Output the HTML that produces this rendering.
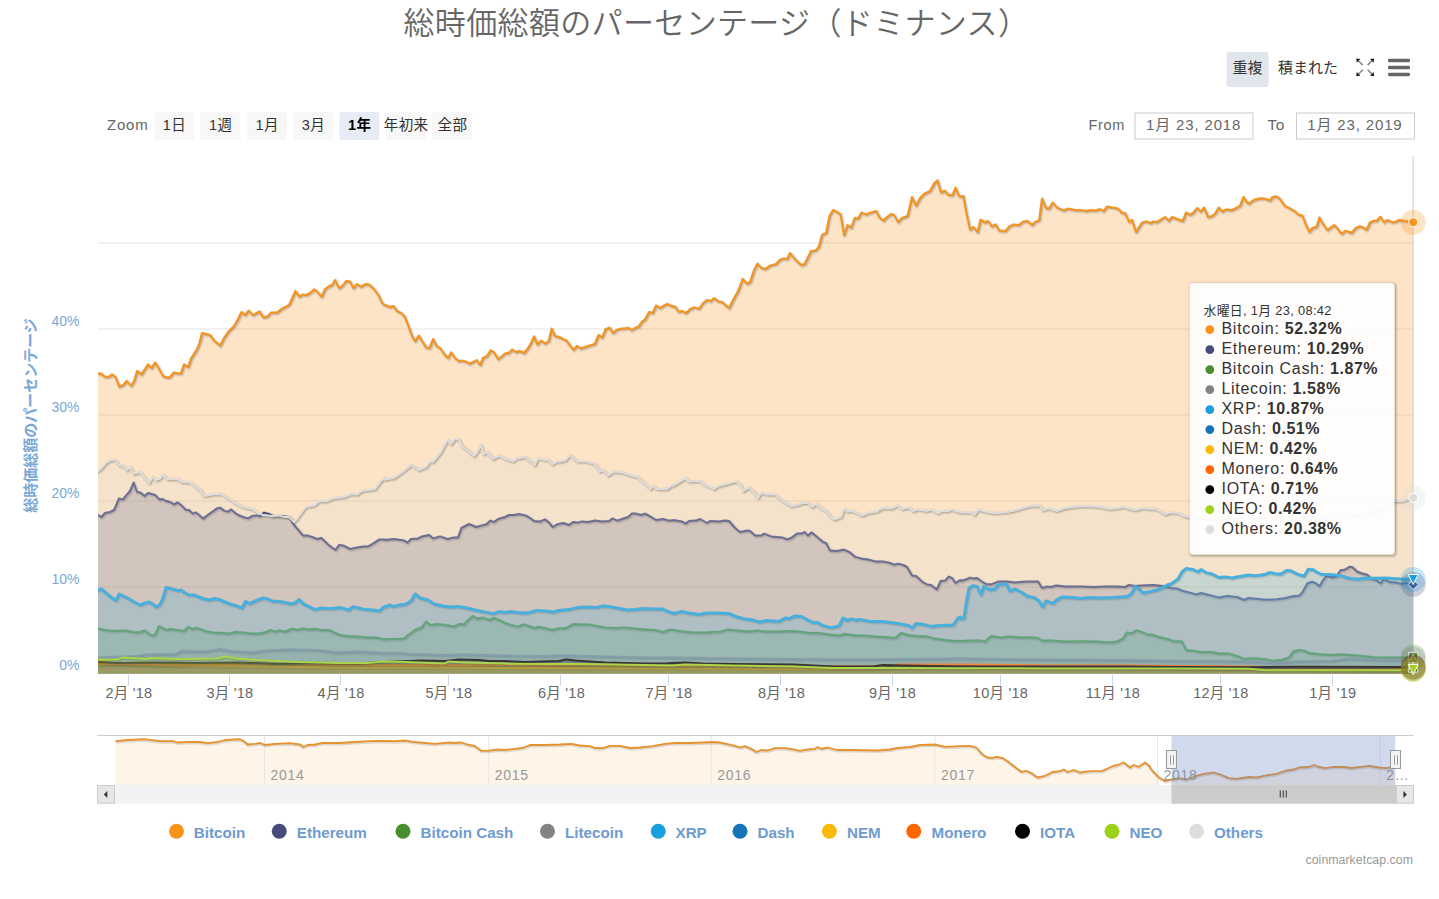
<!DOCTYPE html>
<html lang="ja"><head><meta charset="utf-8"><title>総時価総額のパーセンテージ（ドミナンス）</title>
<style>
html,body{margin:0;padding:0;background:#fff;width:1439px;height:899px;overflow:hidden;font-family:"Liberation Sans", "Noto Sans CJK JP", sans-serif;}
svg text{white-space:pre;}
</style></head><body>
<svg width="1439" height="899" viewBox="0 0 1439 899" style="position:absolute;left:0;top:0;font-family:'Liberation Sans', 'Noto Sans CJK JP', sans-serif">
<rect width="1439" height="899" fill="#fff"/>
<rect x="98.0" y="242.5" width="1315.7" height="1" fill="#e6e6e6"/>
<rect x="98.0" y="328.5" width="1315.7" height="1" fill="#e6e6e6"/>
<rect x="98.0" y="414.5" width="1315.7" height="1" fill="#e6e6e6"/>
<rect x="98.0" y="500.5" width="1315.7" height="1" fill="#e6e6e6"/>
<rect x="98.0" y="586.5" width="1315.7" height="1" fill="#e6e6e6"/>
<clipPath id="plotclip"><rect x="98.0" y="146.0" width="1315.7" height="528.1"/></clipPath>
<g id="series" clip-path="url(#plotclip)">
<path d="M98 373.4 L101 373.4 L105 377 L109 376.6 L112 374.4 L115.4 377 L119.4 386.6 L123 385 L126.6 381 L131 385.6 L134 381 L137 371 L141.4 374.4 L148 364.4 L151.4 368 L155 362.6 L158 367 L163 376 L167 377.6 L170 377 L173.6 372.6 L179 373.4 L181 373 L184 364.4 L188 367 L191 358.6 L197 349 L199.4 343 L202 333 L206 334 L210 335 L214 340.4 L220 345.6 L224 338 L228 332 L234 326 L238 319 L241.4 312 L245 315 L248.6 310.6 L253 315 L259.4 311.4 L263.4 317.4 L267 316.6 L271 312.6 L277 312.6 L282 308.6 L289 305 L295.4 291 L299.4 296.6 L302.6 294.6 L306 295 L310 293 L314 289.4 L317 291.4 L321.4 296.6 L325 289 L329 286 L332 285 L335 280 L339 288 L342 286 L346 281 L350 281.4 L353.4 288 L356.6 284 L361 286.6 L365 284 L369 284.4 L374 289 L379 296 L382 303 L384.6 305 L385 305 L390 307 L393.4 306 L397 311 L401 313 L404.6 316.4 L408 325 L412 336 L415 341 L418.6 335.6 L422 341 L426 347.4 L429.4 348 L433 339 L436.6 346 L440 348 L445 355 L448 358 L451 352.4 L455 358 L458.6 361 L462 360.6 L466 361.6 L469.4 363.6 L473 362 L476.6 360 L480 365 L483 358 L487 356 L490.6 350.4 L494 352.4 L498 359 L502 356 L505 353.4 L508.6 353 L512 349.6 L516 352 L519.4 351 L524 353 L527.4 349 L531 343 L534 336.4 L537.4 344.4 L541 340.6 L545 343.6 L548.6 341 L551.6 328.6 L555 336 L559 337 L563 339 L566.6 340.6 L570 345.6 L573.4 349.6 L577 346 L580.6 348.4 L585 347 L589 345.6 L594.6 344 L598.6 335 L602 337.6 L605.6 329 L609.4 327.6 L613 333 L617 329.6 L621 328.6 L625 328.4 L628 327.6 L631.4 330 L635 328 L638.6 326.4 L642 321.6 L645 319.4 L649 312 L652.6 313 L656 305.4 L660 308 L664 305.4 L667.4 304 L672.6 306.4 L673 306 L675.4 307 L678.6 311.6 L682 311 L686 313 L690 309 L694 307.4 L699 308.6 L703 303 L707 300 L710.6 301 L714 298 L718.6 301.6 L722 302 L729 308 L733 300 L738 291 L742.6 279 L747 283.6 L750 282 L754 270 L757.4 263.6 L761 267.6 L765 269 L770 265.6 L776 264 L780 259.6 L784 258.4 L787 259 L790 253 L794 258 L798 262.4 L801.4 265 L804.6 264 L811 251 L815.4 250.6 L818.6 247 L822 235 L826 233 L829.4 216 L833 210 L837 212 L840.6 214.4 L844 235 L847.4 225 L851 227.6 L854.6 218 L858 218.6 L861.4 212.6 L866 214.4 L871 212.4 L876 211 L880 218 L883.4 220.4 L887 217 L891 214 L894 215 L898 222 L902 218 L907.4 216 L912 197 L916 205.6 L920 198 L924 194 L930 191 L934 183.6 L937.4 180.4 L941 192.4 L944.6 190.6 L948.6 195 L952.6 195 L955.4 187.6 L959 196 L960.6 197 L961 196.4 L963.4 196 L966.6 214 L970 229.4 L973.4 227 L977.4 232 L980.6 219.6 L984.6 222.4 L988 221 L992 226.4 L995.4 224.4 L999.4 230.6 L1005.4 231 L1009 226.6 L1013.4 224.4 L1019 225 L1023 221.4 L1027.4 221 L1032 225 L1035.4 221.6 L1039 220.4 L1042 198.6 L1046 208 L1049 208.4 L1052.6 202.6 L1057 207.6 L1063.4 210.4 L1068 208.6 L1075 210 L1081 210 L1086 211 L1091 210 L1095 210.6 L1100 209 L1103.4 211 L1107 206.6 L1112 207.4 L1118 208.6 L1122 213 L1125 213 L1129 221.6 L1132 220 L1136 232 L1142 222.4 L1146 221.4 L1150.6 223 L1153.4 221.4 L1157 222 L1161.4 219 L1165 217 L1168.6 220.6 L1172 217 L1177 219 L1182.6 221 L1186 212.6 L1190 214.6 L1193.4 212.6 L1197 208 L1200.6 211.4 L1204 207.6 L1208 217 L1212 216 L1215 213.6 L1218.6 207.6 L1222 211.4 L1225.4 209.6 L1232 210 L1236 208 L1240 205.6 L1243.4 197 L1247 202.4 L1248.6 203.6 L1254 199.7 L1260.7 198.3 L1265.7 198.8 L1269.8 200.5 L1272.3 197.2 L1276 196.3 L1279.8 198.8 L1284.8 205.8 L1289.8 208.3 L1294 210.8 L1298.7 214.7 L1302.3 215.5 L1305.7 224.2 L1309.3 231.7 L1312.3 228 L1316.5 226.7 L1319.3 217.5 L1323.2 224.2 L1327.3 230 L1334 225 L1337.3 228.3 L1341.5 233.8 L1345.3 230.8 L1351.5 232.8 L1355.7 228 L1359.3 226.3 L1363.2 227.5 L1366.5 229.7 L1369.8 222.5 L1373.2 220.8 L1376.5 220.8 L1380.3 216.7 L1384 222.2 L1387.3 220 L1392.3 222.2 L1395.7 221.7 L1399 220 L1404 220.8 L1413.2 222 L1413.2 673.6 L98.0 673.6 Z" fill="#F7931A" fill-opacity="0.25"/>
<path d="M98 373.4 L101 373.4 L105 377 L109 376.6 L112 374.4 L115.4 377 L119.4 386.6 L123 385 L126.6 381 L131 385.6 L134 381 L137 371 L141.4 374.4 L148 364.4 L151.4 368 L155 362.6 L158 367 L163 376 L167 377.6 L170 377 L173.6 372.6 L179 373.4 L181 373 L184 364.4 L188 367 L191 358.6 L197 349 L199.4 343 L202 333 L206 334 L210 335 L214 340.4 L220 345.6 L224 338 L228 332 L234 326 L238 319 L241.4 312 L245 315 L248.6 310.6 L253 315 L259.4 311.4 L263.4 317.4 L267 316.6 L271 312.6 L277 312.6 L282 308.6 L289 305 L295.4 291 L299.4 296.6 L302.6 294.6 L306 295 L310 293 L314 289.4 L317 291.4 L321.4 296.6 L325 289 L329 286 L332 285 L335 280 L339 288 L342 286 L346 281 L350 281.4 L353.4 288 L356.6 284 L361 286.6 L365 284 L369 284.4 L374 289 L379 296 L382 303 L384.6 305 L385 305 L390 307 L393.4 306 L397 311 L401 313 L404.6 316.4 L408 325 L412 336 L415 341 L418.6 335.6 L422 341 L426 347.4 L429.4 348 L433 339 L436.6 346 L440 348 L445 355 L448 358 L451 352.4 L455 358 L458.6 361 L462 360.6 L466 361.6 L469.4 363.6 L473 362 L476.6 360 L480 365 L483 358 L487 356 L490.6 350.4 L494 352.4 L498 359 L502 356 L505 353.4 L508.6 353 L512 349.6 L516 352 L519.4 351 L524 353 L527.4 349 L531 343 L534 336.4 L537.4 344.4 L541 340.6 L545 343.6 L548.6 341 L551.6 328.6 L555 336 L559 337 L563 339 L566.6 340.6 L570 345.6 L573.4 349.6 L577 346 L580.6 348.4 L585 347 L589 345.6 L594.6 344 L598.6 335 L602 337.6 L605.6 329 L609.4 327.6 L613 333 L617 329.6 L621 328.6 L625 328.4 L628 327.6 L631.4 330 L635 328 L638.6 326.4 L642 321.6 L645 319.4 L649 312 L652.6 313 L656 305.4 L660 308 L664 305.4 L667.4 304 L672.6 306.4 L673 306 L675.4 307 L678.6 311.6 L682 311 L686 313 L690 309 L694 307.4 L699 308.6 L703 303 L707 300 L710.6 301 L714 298 L718.6 301.6 L722 302 L729 308 L733 300 L738 291 L742.6 279 L747 283.6 L750 282 L754 270 L757.4 263.6 L761 267.6 L765 269 L770 265.6 L776 264 L780 259.6 L784 258.4 L787 259 L790 253 L794 258 L798 262.4 L801.4 265 L804.6 264 L811 251 L815.4 250.6 L818.6 247 L822 235 L826 233 L829.4 216 L833 210 L837 212 L840.6 214.4 L844 235 L847.4 225 L851 227.6 L854.6 218 L858 218.6 L861.4 212.6 L866 214.4 L871 212.4 L876 211 L880 218 L883.4 220.4 L887 217 L891 214 L894 215 L898 222 L902 218 L907.4 216 L912 197 L916 205.6 L920 198 L924 194 L930 191 L934 183.6 L937.4 180.4 L941 192.4 L944.6 190.6 L948.6 195 L952.6 195 L955.4 187.6 L959 196 L960.6 197 L961 196.4 L963.4 196 L966.6 214 L970 229.4 L973.4 227 L977.4 232 L980.6 219.6 L984.6 222.4 L988 221 L992 226.4 L995.4 224.4 L999.4 230.6 L1005.4 231 L1009 226.6 L1013.4 224.4 L1019 225 L1023 221.4 L1027.4 221 L1032 225 L1035.4 221.6 L1039 220.4 L1042 198.6 L1046 208 L1049 208.4 L1052.6 202.6 L1057 207.6 L1063.4 210.4 L1068 208.6 L1075 210 L1081 210 L1086 211 L1091 210 L1095 210.6 L1100 209 L1103.4 211 L1107 206.6 L1112 207.4 L1118 208.6 L1122 213 L1125 213 L1129 221.6 L1132 220 L1136 232 L1142 222.4 L1146 221.4 L1150.6 223 L1153.4 221.4 L1157 222 L1161.4 219 L1165 217 L1168.6 220.6 L1172 217 L1177 219 L1182.6 221 L1186 212.6 L1190 214.6 L1193.4 212.6 L1197 208 L1200.6 211.4 L1204 207.6 L1208 217 L1212 216 L1215 213.6 L1218.6 207.6 L1222 211.4 L1225.4 209.6 L1232 210 L1236 208 L1240 205.6 L1243.4 197 L1247 202.4 L1248.6 203.6 L1254 199.7 L1260.7 198.3 L1265.7 198.8 L1269.8 200.5 L1272.3 197.2 L1276 196.3 L1279.8 198.8 L1284.8 205.8 L1289.8 208.3 L1294 210.8 L1298.7 214.7 L1302.3 215.5 L1305.7 224.2 L1309.3 231.7 L1312.3 228 L1316.5 226.7 L1319.3 217.5 L1323.2 224.2 L1327.3 230 L1334 225 L1337.3 228.3 L1341.5 233.8 L1345.3 230.8 L1351.5 232.8 L1355.7 228 L1359.3 226.3 L1363.2 227.5 L1366.5 229.7 L1369.8 222.5 L1373.2 220.8 L1376.5 220.8 L1380.3 216.7 L1384 222.2 L1387.3 220 L1392.3 222.2 L1395.7 221.7 L1399 220 L1404 220.8 L1413.2 222" transform="translate(1,1)" fill="none" stroke="#000" stroke-opacity="0.05" stroke-width="5" stroke-linejoin="round" stroke-linecap="round"/>
<path d="M98 373.4 L101 373.4 L105 377 L109 376.6 L112 374.4 L115.4 377 L119.4 386.6 L123 385 L126.6 381 L131 385.6 L134 381 L137 371 L141.4 374.4 L148 364.4 L151.4 368 L155 362.6 L158 367 L163 376 L167 377.6 L170 377 L173.6 372.6 L179 373.4 L181 373 L184 364.4 L188 367 L191 358.6 L197 349 L199.4 343 L202 333 L206 334 L210 335 L214 340.4 L220 345.6 L224 338 L228 332 L234 326 L238 319 L241.4 312 L245 315 L248.6 310.6 L253 315 L259.4 311.4 L263.4 317.4 L267 316.6 L271 312.6 L277 312.6 L282 308.6 L289 305 L295.4 291 L299.4 296.6 L302.6 294.6 L306 295 L310 293 L314 289.4 L317 291.4 L321.4 296.6 L325 289 L329 286 L332 285 L335 280 L339 288 L342 286 L346 281 L350 281.4 L353.4 288 L356.6 284 L361 286.6 L365 284 L369 284.4 L374 289 L379 296 L382 303 L384.6 305 L385 305 L390 307 L393.4 306 L397 311 L401 313 L404.6 316.4 L408 325 L412 336 L415 341 L418.6 335.6 L422 341 L426 347.4 L429.4 348 L433 339 L436.6 346 L440 348 L445 355 L448 358 L451 352.4 L455 358 L458.6 361 L462 360.6 L466 361.6 L469.4 363.6 L473 362 L476.6 360 L480 365 L483 358 L487 356 L490.6 350.4 L494 352.4 L498 359 L502 356 L505 353.4 L508.6 353 L512 349.6 L516 352 L519.4 351 L524 353 L527.4 349 L531 343 L534 336.4 L537.4 344.4 L541 340.6 L545 343.6 L548.6 341 L551.6 328.6 L555 336 L559 337 L563 339 L566.6 340.6 L570 345.6 L573.4 349.6 L577 346 L580.6 348.4 L585 347 L589 345.6 L594.6 344 L598.6 335 L602 337.6 L605.6 329 L609.4 327.6 L613 333 L617 329.6 L621 328.6 L625 328.4 L628 327.6 L631.4 330 L635 328 L638.6 326.4 L642 321.6 L645 319.4 L649 312 L652.6 313 L656 305.4 L660 308 L664 305.4 L667.4 304 L672.6 306.4 L673 306 L675.4 307 L678.6 311.6 L682 311 L686 313 L690 309 L694 307.4 L699 308.6 L703 303 L707 300 L710.6 301 L714 298 L718.6 301.6 L722 302 L729 308 L733 300 L738 291 L742.6 279 L747 283.6 L750 282 L754 270 L757.4 263.6 L761 267.6 L765 269 L770 265.6 L776 264 L780 259.6 L784 258.4 L787 259 L790 253 L794 258 L798 262.4 L801.4 265 L804.6 264 L811 251 L815.4 250.6 L818.6 247 L822 235 L826 233 L829.4 216 L833 210 L837 212 L840.6 214.4 L844 235 L847.4 225 L851 227.6 L854.6 218 L858 218.6 L861.4 212.6 L866 214.4 L871 212.4 L876 211 L880 218 L883.4 220.4 L887 217 L891 214 L894 215 L898 222 L902 218 L907.4 216 L912 197 L916 205.6 L920 198 L924 194 L930 191 L934 183.6 L937.4 180.4 L941 192.4 L944.6 190.6 L948.6 195 L952.6 195 L955.4 187.6 L959 196 L960.6 197 L961 196.4 L963.4 196 L966.6 214 L970 229.4 L973.4 227 L977.4 232 L980.6 219.6 L984.6 222.4 L988 221 L992 226.4 L995.4 224.4 L999.4 230.6 L1005.4 231 L1009 226.6 L1013.4 224.4 L1019 225 L1023 221.4 L1027.4 221 L1032 225 L1035.4 221.6 L1039 220.4 L1042 198.6 L1046 208 L1049 208.4 L1052.6 202.6 L1057 207.6 L1063.4 210.4 L1068 208.6 L1075 210 L1081 210 L1086 211 L1091 210 L1095 210.6 L1100 209 L1103.4 211 L1107 206.6 L1112 207.4 L1118 208.6 L1122 213 L1125 213 L1129 221.6 L1132 220 L1136 232 L1142 222.4 L1146 221.4 L1150.6 223 L1153.4 221.4 L1157 222 L1161.4 219 L1165 217 L1168.6 220.6 L1172 217 L1177 219 L1182.6 221 L1186 212.6 L1190 214.6 L1193.4 212.6 L1197 208 L1200.6 211.4 L1204 207.6 L1208 217 L1212 216 L1215 213.6 L1218.6 207.6 L1222 211.4 L1225.4 209.6 L1232 210 L1236 208 L1240 205.6 L1243.4 197 L1247 202.4 L1248.6 203.6 L1254 199.7 L1260.7 198.3 L1265.7 198.8 L1269.8 200.5 L1272.3 197.2 L1276 196.3 L1279.8 198.8 L1284.8 205.8 L1289.8 208.3 L1294 210.8 L1298.7 214.7 L1302.3 215.5 L1305.7 224.2 L1309.3 231.7 L1312.3 228 L1316.5 226.7 L1319.3 217.5 L1323.2 224.2 L1327.3 230 L1334 225 L1337.3 228.3 L1341.5 233.8 L1345.3 230.8 L1351.5 232.8 L1355.7 228 L1359.3 226.3 L1363.2 227.5 L1366.5 229.7 L1369.8 222.5 L1373.2 220.8 L1376.5 220.8 L1380.3 216.7 L1384 222.2 L1387.3 220 L1392.3 222.2 L1395.7 221.7 L1399 220 L1404 220.8 L1413.2 222" transform="translate(1,1)" fill="none" stroke="#000" stroke-opacity="0.1" stroke-width="3" stroke-linejoin="round" stroke-linecap="round"/>
<path d="M98 373.4 L101 373.4 L105 377 L109 376.6 L112 374.4 L115.4 377 L119.4 386.6 L123 385 L126.6 381 L131 385.6 L134 381 L137 371 L141.4 374.4 L148 364.4 L151.4 368 L155 362.6 L158 367 L163 376 L167 377.6 L170 377 L173.6 372.6 L179 373.4 L181 373 L184 364.4 L188 367 L191 358.6 L197 349 L199.4 343 L202 333 L206 334 L210 335 L214 340.4 L220 345.6 L224 338 L228 332 L234 326 L238 319 L241.4 312 L245 315 L248.6 310.6 L253 315 L259.4 311.4 L263.4 317.4 L267 316.6 L271 312.6 L277 312.6 L282 308.6 L289 305 L295.4 291 L299.4 296.6 L302.6 294.6 L306 295 L310 293 L314 289.4 L317 291.4 L321.4 296.6 L325 289 L329 286 L332 285 L335 280 L339 288 L342 286 L346 281 L350 281.4 L353.4 288 L356.6 284 L361 286.6 L365 284 L369 284.4 L374 289 L379 296 L382 303 L384.6 305 L385 305 L390 307 L393.4 306 L397 311 L401 313 L404.6 316.4 L408 325 L412 336 L415 341 L418.6 335.6 L422 341 L426 347.4 L429.4 348 L433 339 L436.6 346 L440 348 L445 355 L448 358 L451 352.4 L455 358 L458.6 361 L462 360.6 L466 361.6 L469.4 363.6 L473 362 L476.6 360 L480 365 L483 358 L487 356 L490.6 350.4 L494 352.4 L498 359 L502 356 L505 353.4 L508.6 353 L512 349.6 L516 352 L519.4 351 L524 353 L527.4 349 L531 343 L534 336.4 L537.4 344.4 L541 340.6 L545 343.6 L548.6 341 L551.6 328.6 L555 336 L559 337 L563 339 L566.6 340.6 L570 345.6 L573.4 349.6 L577 346 L580.6 348.4 L585 347 L589 345.6 L594.6 344 L598.6 335 L602 337.6 L605.6 329 L609.4 327.6 L613 333 L617 329.6 L621 328.6 L625 328.4 L628 327.6 L631.4 330 L635 328 L638.6 326.4 L642 321.6 L645 319.4 L649 312 L652.6 313 L656 305.4 L660 308 L664 305.4 L667.4 304 L672.6 306.4 L673 306 L675.4 307 L678.6 311.6 L682 311 L686 313 L690 309 L694 307.4 L699 308.6 L703 303 L707 300 L710.6 301 L714 298 L718.6 301.6 L722 302 L729 308 L733 300 L738 291 L742.6 279 L747 283.6 L750 282 L754 270 L757.4 263.6 L761 267.6 L765 269 L770 265.6 L776 264 L780 259.6 L784 258.4 L787 259 L790 253 L794 258 L798 262.4 L801.4 265 L804.6 264 L811 251 L815.4 250.6 L818.6 247 L822 235 L826 233 L829.4 216 L833 210 L837 212 L840.6 214.4 L844 235 L847.4 225 L851 227.6 L854.6 218 L858 218.6 L861.4 212.6 L866 214.4 L871 212.4 L876 211 L880 218 L883.4 220.4 L887 217 L891 214 L894 215 L898 222 L902 218 L907.4 216 L912 197 L916 205.6 L920 198 L924 194 L930 191 L934 183.6 L937.4 180.4 L941 192.4 L944.6 190.6 L948.6 195 L952.6 195 L955.4 187.6 L959 196 L960.6 197 L961 196.4 L963.4 196 L966.6 214 L970 229.4 L973.4 227 L977.4 232 L980.6 219.6 L984.6 222.4 L988 221 L992 226.4 L995.4 224.4 L999.4 230.6 L1005.4 231 L1009 226.6 L1013.4 224.4 L1019 225 L1023 221.4 L1027.4 221 L1032 225 L1035.4 221.6 L1039 220.4 L1042 198.6 L1046 208 L1049 208.4 L1052.6 202.6 L1057 207.6 L1063.4 210.4 L1068 208.6 L1075 210 L1081 210 L1086 211 L1091 210 L1095 210.6 L1100 209 L1103.4 211 L1107 206.6 L1112 207.4 L1118 208.6 L1122 213 L1125 213 L1129 221.6 L1132 220 L1136 232 L1142 222.4 L1146 221.4 L1150.6 223 L1153.4 221.4 L1157 222 L1161.4 219 L1165 217 L1168.6 220.6 L1172 217 L1177 219 L1182.6 221 L1186 212.6 L1190 214.6 L1193.4 212.6 L1197 208 L1200.6 211.4 L1204 207.6 L1208 217 L1212 216 L1215 213.6 L1218.6 207.6 L1222 211.4 L1225.4 209.6 L1232 210 L1236 208 L1240 205.6 L1243.4 197 L1247 202.4 L1248.6 203.6 L1254 199.7 L1260.7 198.3 L1265.7 198.8 L1269.8 200.5 L1272.3 197.2 L1276 196.3 L1279.8 198.8 L1284.8 205.8 L1289.8 208.3 L1294 210.8 L1298.7 214.7 L1302.3 215.5 L1305.7 224.2 L1309.3 231.7 L1312.3 228 L1316.5 226.7 L1319.3 217.5 L1323.2 224.2 L1327.3 230 L1334 225 L1337.3 228.3 L1341.5 233.8 L1345.3 230.8 L1351.5 232.8 L1355.7 228 L1359.3 226.3 L1363.2 227.5 L1366.5 229.7 L1369.8 222.5 L1373.2 220.8 L1376.5 220.8 L1380.3 216.7 L1384 222.2 L1387.3 220 L1392.3 222.2 L1395.7 221.7 L1399 220 L1404 220.8 L1413.2 222" transform="translate(1,1)" fill="none" stroke="#000" stroke-opacity="0.15" stroke-width="1" stroke-linejoin="round" stroke-linecap="round"/>
<path d="M98 373.4 L101 373.4 L105 377 L109 376.6 L112 374.4 L115.4 377 L119.4 386.6 L123 385 L126.6 381 L131 385.6 L134 381 L137 371 L141.4 374.4 L148 364.4 L151.4 368 L155 362.6 L158 367 L163 376 L167 377.6 L170 377 L173.6 372.6 L179 373.4 L181 373 L184 364.4 L188 367 L191 358.6 L197 349 L199.4 343 L202 333 L206 334 L210 335 L214 340.4 L220 345.6 L224 338 L228 332 L234 326 L238 319 L241.4 312 L245 315 L248.6 310.6 L253 315 L259.4 311.4 L263.4 317.4 L267 316.6 L271 312.6 L277 312.6 L282 308.6 L289 305 L295.4 291 L299.4 296.6 L302.6 294.6 L306 295 L310 293 L314 289.4 L317 291.4 L321.4 296.6 L325 289 L329 286 L332 285 L335 280 L339 288 L342 286 L346 281 L350 281.4 L353.4 288 L356.6 284 L361 286.6 L365 284 L369 284.4 L374 289 L379 296 L382 303 L384.6 305 L385 305 L390 307 L393.4 306 L397 311 L401 313 L404.6 316.4 L408 325 L412 336 L415 341 L418.6 335.6 L422 341 L426 347.4 L429.4 348 L433 339 L436.6 346 L440 348 L445 355 L448 358 L451 352.4 L455 358 L458.6 361 L462 360.6 L466 361.6 L469.4 363.6 L473 362 L476.6 360 L480 365 L483 358 L487 356 L490.6 350.4 L494 352.4 L498 359 L502 356 L505 353.4 L508.6 353 L512 349.6 L516 352 L519.4 351 L524 353 L527.4 349 L531 343 L534 336.4 L537.4 344.4 L541 340.6 L545 343.6 L548.6 341 L551.6 328.6 L555 336 L559 337 L563 339 L566.6 340.6 L570 345.6 L573.4 349.6 L577 346 L580.6 348.4 L585 347 L589 345.6 L594.6 344 L598.6 335 L602 337.6 L605.6 329 L609.4 327.6 L613 333 L617 329.6 L621 328.6 L625 328.4 L628 327.6 L631.4 330 L635 328 L638.6 326.4 L642 321.6 L645 319.4 L649 312 L652.6 313 L656 305.4 L660 308 L664 305.4 L667.4 304 L672.6 306.4 L673 306 L675.4 307 L678.6 311.6 L682 311 L686 313 L690 309 L694 307.4 L699 308.6 L703 303 L707 300 L710.6 301 L714 298 L718.6 301.6 L722 302 L729 308 L733 300 L738 291 L742.6 279 L747 283.6 L750 282 L754 270 L757.4 263.6 L761 267.6 L765 269 L770 265.6 L776 264 L780 259.6 L784 258.4 L787 259 L790 253 L794 258 L798 262.4 L801.4 265 L804.6 264 L811 251 L815.4 250.6 L818.6 247 L822 235 L826 233 L829.4 216 L833 210 L837 212 L840.6 214.4 L844 235 L847.4 225 L851 227.6 L854.6 218 L858 218.6 L861.4 212.6 L866 214.4 L871 212.4 L876 211 L880 218 L883.4 220.4 L887 217 L891 214 L894 215 L898 222 L902 218 L907.4 216 L912 197 L916 205.6 L920 198 L924 194 L930 191 L934 183.6 L937.4 180.4 L941 192.4 L944.6 190.6 L948.6 195 L952.6 195 L955.4 187.6 L959 196 L960.6 197 L961 196.4 L963.4 196 L966.6 214 L970 229.4 L973.4 227 L977.4 232 L980.6 219.6 L984.6 222.4 L988 221 L992 226.4 L995.4 224.4 L999.4 230.6 L1005.4 231 L1009 226.6 L1013.4 224.4 L1019 225 L1023 221.4 L1027.4 221 L1032 225 L1035.4 221.6 L1039 220.4 L1042 198.6 L1046 208 L1049 208.4 L1052.6 202.6 L1057 207.6 L1063.4 210.4 L1068 208.6 L1075 210 L1081 210 L1086 211 L1091 210 L1095 210.6 L1100 209 L1103.4 211 L1107 206.6 L1112 207.4 L1118 208.6 L1122 213 L1125 213 L1129 221.6 L1132 220 L1136 232 L1142 222.4 L1146 221.4 L1150.6 223 L1153.4 221.4 L1157 222 L1161.4 219 L1165 217 L1168.6 220.6 L1172 217 L1177 219 L1182.6 221 L1186 212.6 L1190 214.6 L1193.4 212.6 L1197 208 L1200.6 211.4 L1204 207.6 L1208 217 L1212 216 L1215 213.6 L1218.6 207.6 L1222 211.4 L1225.4 209.6 L1232 210 L1236 208 L1240 205.6 L1243.4 197 L1247 202.4 L1248.6 203.6 L1254 199.7 L1260.7 198.3 L1265.7 198.8 L1269.8 200.5 L1272.3 197.2 L1276 196.3 L1279.8 198.8 L1284.8 205.8 L1289.8 208.3 L1294 210.8 L1298.7 214.7 L1302.3 215.5 L1305.7 224.2 L1309.3 231.7 L1312.3 228 L1316.5 226.7 L1319.3 217.5 L1323.2 224.2 L1327.3 230 L1334 225 L1337.3 228.3 L1341.5 233.8 L1345.3 230.8 L1351.5 232.8 L1355.7 228 L1359.3 226.3 L1363.2 227.5 L1366.5 229.7 L1369.8 222.5 L1373.2 220.8 L1376.5 220.8 L1380.3 216.7 L1384 222.2 L1387.3 220 L1392.3 222.2 L1395.7 221.7 L1399 220 L1404 220.8 L1413.2 222" fill="none" stroke="#F7931A" stroke-width="2" stroke-linejoin="round" stroke-linecap="round"/>
<path d="M98 515 L101.4 517 L105 513 L110 512 L114 510 L119 498.4 L122.6 499.6 L130 491 L133.6 482.6 L137 492 L140 492.4 L144.6 496 L148 493 L155 495 L159.4 499.4 L162.6 499 L166 501 L170 502 L174 504.4 L177.4 502.4 L181 505 L186 510 L189 510 L192.6 513.6 L196 512.4 L203 518.6 L209 514 L217 508.4 L220 507.6 L224 510.6 L228 511.6 L231 509.4 L237 514.4 L243 517 L248 518.4 L252 516 L256 515.4 L260 516.4 L264 512.6 L269 514 L273 516 L281 516 L289 517 L294 525 L298 529.6 L303 535.6 L307 535.4 L312 537 L317 539 L321.4 538 L329 545.4 L335.4 550 L339 545 L343 545.4 L350 549 L357 547.4 L363 546.6 L368 546.4 L373 543.6 L379 539.6 L384.6 539.4 L385 540 L394 539 L404 540.4 L407.4 542.6 L411 539 L418 538.4 L422 536.4 L429 535 L433 538.4 L440 536.4 L447.4 539 L453 537.6 L458 537.4 L461.4 528 L469 524 L476 527 L481 525.6 L487 524 L490 520.6 L494 522 L498 519 L505 517 L509 515 L514 515 L519 514 L526 515.6 L530 518 L534 521 L540 521.4 L545 519.4 L549 522.6 L552.6 527 L557 524.4 L563 523 L569 525 L573 522 L577 522.6 L582 521.4 L588 522 L595 520.6 L602 521.4 L609 521 L612.6 518.4 L617 520.6 L622 519 L628 517 L632 513.6 L636 513.6 L641 515 L645 513.6 L650 516.4 L656 520 L663 519 L668 520.4 L672.6 520.4 L673 520 L682 521.6 L685.4 523.6 L689 521 L696 520.6 L700 519 L707 523 L710 521 L719 521.6 L725 520.4 L729 521 L735 528 L740 532 L747 530.6 L750 531 L755 535.6 L761 535.6 L764 533.6 L771 536.4 L782 537.4 L787 539.4 L791 538 L797 533.6 L802 533.4 L804.4 532 L808 535.6 L811.4 532.4 L816 536 L823 542 L826 543 L830 550.6 L837 551 L844 549.6 L850 552.4 L854.6 556.6 L861 558.4 L868 559.4 L875 561.4 L883 561.4 L890 563 L894 564.6 L898 563.6 L903 565 L907 567 L912 575.6 L916 576 L923 582.4 L927 584.4 L931 585 L936.6 589.6 L940.6 581 L945 580.6 L948.6 576.6 L952 578 L955.4 583 L959 580.6 L960.6 580 L961 581 L967 579 L970 577.6 L973 578.4 L977 578 L981 581 L986 584 L991 584.4 L998 581.6 L1007 581.6 L1015 582.4 L1027 581.4 L1038 581.4 L1042 588 L1047 586.4 L1051 587 L1056 585.4 L1065 586.4 L1081 586.4 L1093 587 L1105 586.4 L1117 586.6 L1125 587 L1129 585 L1135 586 L1141 585.6 L1153 585 L1163 586 L1171 588 L1177 588.6 L1183 591 L1189 592.4 L1196 594.4 L1201 593 L1209 595 L1219 597.6 L1227 596 L1237 597 L1244 600 L1248.6 598 L1255.7 598.7 L1265.7 599.7 L1277.3 599.2 L1285.7 598 L1292.3 596.3 L1299 595.8 L1302.3 592.5 L1307.3 583.3 L1312.3 581.7 L1315.7 583.3 L1319.3 586.3 L1323.2 580 L1326.5 575.8 L1332.3 577.5 L1336.5 576.3 L1340.7 570 L1344 570 L1349.8 566.7 L1352.3 567.2 L1357.3 571.7 L1361.5 573.3 L1367.3 574.7 L1370.7 578.3 L1375.7 580 L1380.7 583.3 L1384 579.2 L1389 582 L1395.7 582.5 L1400.7 583.8 L1405.7 583 L1413.2 584.7 L1413.2 673.6 L98.0 673.6 Z" fill="#474A7C" fill-opacity="0.25"/>
<path d="M98 515 L101.4 517 L105 513 L110 512 L114 510 L119 498.4 L122.6 499.6 L130 491 L133.6 482.6 L137 492 L140 492.4 L144.6 496 L148 493 L155 495 L159.4 499.4 L162.6 499 L166 501 L170 502 L174 504.4 L177.4 502.4 L181 505 L186 510 L189 510 L192.6 513.6 L196 512.4 L203 518.6 L209 514 L217 508.4 L220 507.6 L224 510.6 L228 511.6 L231 509.4 L237 514.4 L243 517 L248 518.4 L252 516 L256 515.4 L260 516.4 L264 512.6 L269 514 L273 516 L281 516 L289 517 L294 525 L298 529.6 L303 535.6 L307 535.4 L312 537 L317 539 L321.4 538 L329 545.4 L335.4 550 L339 545 L343 545.4 L350 549 L357 547.4 L363 546.6 L368 546.4 L373 543.6 L379 539.6 L384.6 539.4 L385 540 L394 539 L404 540.4 L407.4 542.6 L411 539 L418 538.4 L422 536.4 L429 535 L433 538.4 L440 536.4 L447.4 539 L453 537.6 L458 537.4 L461.4 528 L469 524 L476 527 L481 525.6 L487 524 L490 520.6 L494 522 L498 519 L505 517 L509 515 L514 515 L519 514 L526 515.6 L530 518 L534 521 L540 521.4 L545 519.4 L549 522.6 L552.6 527 L557 524.4 L563 523 L569 525 L573 522 L577 522.6 L582 521.4 L588 522 L595 520.6 L602 521.4 L609 521 L612.6 518.4 L617 520.6 L622 519 L628 517 L632 513.6 L636 513.6 L641 515 L645 513.6 L650 516.4 L656 520 L663 519 L668 520.4 L672.6 520.4 L673 520 L682 521.6 L685.4 523.6 L689 521 L696 520.6 L700 519 L707 523 L710 521 L719 521.6 L725 520.4 L729 521 L735 528 L740 532 L747 530.6 L750 531 L755 535.6 L761 535.6 L764 533.6 L771 536.4 L782 537.4 L787 539.4 L791 538 L797 533.6 L802 533.4 L804.4 532 L808 535.6 L811.4 532.4 L816 536 L823 542 L826 543 L830 550.6 L837 551 L844 549.6 L850 552.4 L854.6 556.6 L861 558.4 L868 559.4 L875 561.4 L883 561.4 L890 563 L894 564.6 L898 563.6 L903 565 L907 567 L912 575.6 L916 576 L923 582.4 L927 584.4 L931 585 L936.6 589.6 L940.6 581 L945 580.6 L948.6 576.6 L952 578 L955.4 583 L959 580.6 L960.6 580 L961 581 L967 579 L970 577.6 L973 578.4 L977 578 L981 581 L986 584 L991 584.4 L998 581.6 L1007 581.6 L1015 582.4 L1027 581.4 L1038 581.4 L1042 588 L1047 586.4 L1051 587 L1056 585.4 L1065 586.4 L1081 586.4 L1093 587 L1105 586.4 L1117 586.6 L1125 587 L1129 585 L1135 586 L1141 585.6 L1153 585 L1163 586 L1171 588 L1177 588.6 L1183 591 L1189 592.4 L1196 594.4 L1201 593 L1209 595 L1219 597.6 L1227 596 L1237 597 L1244 600 L1248.6 598 L1255.7 598.7 L1265.7 599.7 L1277.3 599.2 L1285.7 598 L1292.3 596.3 L1299 595.8 L1302.3 592.5 L1307.3 583.3 L1312.3 581.7 L1315.7 583.3 L1319.3 586.3 L1323.2 580 L1326.5 575.8 L1332.3 577.5 L1336.5 576.3 L1340.7 570 L1344 570 L1349.8 566.7 L1352.3 567.2 L1357.3 571.7 L1361.5 573.3 L1367.3 574.7 L1370.7 578.3 L1375.7 580 L1380.7 583.3 L1384 579.2 L1389 582 L1395.7 582.5 L1400.7 583.8 L1405.7 583 L1413.2 584.7" transform="translate(1,1)" fill="none" stroke="#000" stroke-opacity="0.05" stroke-width="5" stroke-linejoin="round" stroke-linecap="round"/>
<path d="M98 515 L101.4 517 L105 513 L110 512 L114 510 L119 498.4 L122.6 499.6 L130 491 L133.6 482.6 L137 492 L140 492.4 L144.6 496 L148 493 L155 495 L159.4 499.4 L162.6 499 L166 501 L170 502 L174 504.4 L177.4 502.4 L181 505 L186 510 L189 510 L192.6 513.6 L196 512.4 L203 518.6 L209 514 L217 508.4 L220 507.6 L224 510.6 L228 511.6 L231 509.4 L237 514.4 L243 517 L248 518.4 L252 516 L256 515.4 L260 516.4 L264 512.6 L269 514 L273 516 L281 516 L289 517 L294 525 L298 529.6 L303 535.6 L307 535.4 L312 537 L317 539 L321.4 538 L329 545.4 L335.4 550 L339 545 L343 545.4 L350 549 L357 547.4 L363 546.6 L368 546.4 L373 543.6 L379 539.6 L384.6 539.4 L385 540 L394 539 L404 540.4 L407.4 542.6 L411 539 L418 538.4 L422 536.4 L429 535 L433 538.4 L440 536.4 L447.4 539 L453 537.6 L458 537.4 L461.4 528 L469 524 L476 527 L481 525.6 L487 524 L490 520.6 L494 522 L498 519 L505 517 L509 515 L514 515 L519 514 L526 515.6 L530 518 L534 521 L540 521.4 L545 519.4 L549 522.6 L552.6 527 L557 524.4 L563 523 L569 525 L573 522 L577 522.6 L582 521.4 L588 522 L595 520.6 L602 521.4 L609 521 L612.6 518.4 L617 520.6 L622 519 L628 517 L632 513.6 L636 513.6 L641 515 L645 513.6 L650 516.4 L656 520 L663 519 L668 520.4 L672.6 520.4 L673 520 L682 521.6 L685.4 523.6 L689 521 L696 520.6 L700 519 L707 523 L710 521 L719 521.6 L725 520.4 L729 521 L735 528 L740 532 L747 530.6 L750 531 L755 535.6 L761 535.6 L764 533.6 L771 536.4 L782 537.4 L787 539.4 L791 538 L797 533.6 L802 533.4 L804.4 532 L808 535.6 L811.4 532.4 L816 536 L823 542 L826 543 L830 550.6 L837 551 L844 549.6 L850 552.4 L854.6 556.6 L861 558.4 L868 559.4 L875 561.4 L883 561.4 L890 563 L894 564.6 L898 563.6 L903 565 L907 567 L912 575.6 L916 576 L923 582.4 L927 584.4 L931 585 L936.6 589.6 L940.6 581 L945 580.6 L948.6 576.6 L952 578 L955.4 583 L959 580.6 L960.6 580 L961 581 L967 579 L970 577.6 L973 578.4 L977 578 L981 581 L986 584 L991 584.4 L998 581.6 L1007 581.6 L1015 582.4 L1027 581.4 L1038 581.4 L1042 588 L1047 586.4 L1051 587 L1056 585.4 L1065 586.4 L1081 586.4 L1093 587 L1105 586.4 L1117 586.6 L1125 587 L1129 585 L1135 586 L1141 585.6 L1153 585 L1163 586 L1171 588 L1177 588.6 L1183 591 L1189 592.4 L1196 594.4 L1201 593 L1209 595 L1219 597.6 L1227 596 L1237 597 L1244 600 L1248.6 598 L1255.7 598.7 L1265.7 599.7 L1277.3 599.2 L1285.7 598 L1292.3 596.3 L1299 595.8 L1302.3 592.5 L1307.3 583.3 L1312.3 581.7 L1315.7 583.3 L1319.3 586.3 L1323.2 580 L1326.5 575.8 L1332.3 577.5 L1336.5 576.3 L1340.7 570 L1344 570 L1349.8 566.7 L1352.3 567.2 L1357.3 571.7 L1361.5 573.3 L1367.3 574.7 L1370.7 578.3 L1375.7 580 L1380.7 583.3 L1384 579.2 L1389 582 L1395.7 582.5 L1400.7 583.8 L1405.7 583 L1413.2 584.7" transform="translate(1,1)" fill="none" stroke="#000" stroke-opacity="0.1" stroke-width="3" stroke-linejoin="round" stroke-linecap="round"/>
<path d="M98 515 L101.4 517 L105 513 L110 512 L114 510 L119 498.4 L122.6 499.6 L130 491 L133.6 482.6 L137 492 L140 492.4 L144.6 496 L148 493 L155 495 L159.4 499.4 L162.6 499 L166 501 L170 502 L174 504.4 L177.4 502.4 L181 505 L186 510 L189 510 L192.6 513.6 L196 512.4 L203 518.6 L209 514 L217 508.4 L220 507.6 L224 510.6 L228 511.6 L231 509.4 L237 514.4 L243 517 L248 518.4 L252 516 L256 515.4 L260 516.4 L264 512.6 L269 514 L273 516 L281 516 L289 517 L294 525 L298 529.6 L303 535.6 L307 535.4 L312 537 L317 539 L321.4 538 L329 545.4 L335.4 550 L339 545 L343 545.4 L350 549 L357 547.4 L363 546.6 L368 546.4 L373 543.6 L379 539.6 L384.6 539.4 L385 540 L394 539 L404 540.4 L407.4 542.6 L411 539 L418 538.4 L422 536.4 L429 535 L433 538.4 L440 536.4 L447.4 539 L453 537.6 L458 537.4 L461.4 528 L469 524 L476 527 L481 525.6 L487 524 L490 520.6 L494 522 L498 519 L505 517 L509 515 L514 515 L519 514 L526 515.6 L530 518 L534 521 L540 521.4 L545 519.4 L549 522.6 L552.6 527 L557 524.4 L563 523 L569 525 L573 522 L577 522.6 L582 521.4 L588 522 L595 520.6 L602 521.4 L609 521 L612.6 518.4 L617 520.6 L622 519 L628 517 L632 513.6 L636 513.6 L641 515 L645 513.6 L650 516.4 L656 520 L663 519 L668 520.4 L672.6 520.4 L673 520 L682 521.6 L685.4 523.6 L689 521 L696 520.6 L700 519 L707 523 L710 521 L719 521.6 L725 520.4 L729 521 L735 528 L740 532 L747 530.6 L750 531 L755 535.6 L761 535.6 L764 533.6 L771 536.4 L782 537.4 L787 539.4 L791 538 L797 533.6 L802 533.4 L804.4 532 L808 535.6 L811.4 532.4 L816 536 L823 542 L826 543 L830 550.6 L837 551 L844 549.6 L850 552.4 L854.6 556.6 L861 558.4 L868 559.4 L875 561.4 L883 561.4 L890 563 L894 564.6 L898 563.6 L903 565 L907 567 L912 575.6 L916 576 L923 582.4 L927 584.4 L931 585 L936.6 589.6 L940.6 581 L945 580.6 L948.6 576.6 L952 578 L955.4 583 L959 580.6 L960.6 580 L961 581 L967 579 L970 577.6 L973 578.4 L977 578 L981 581 L986 584 L991 584.4 L998 581.6 L1007 581.6 L1015 582.4 L1027 581.4 L1038 581.4 L1042 588 L1047 586.4 L1051 587 L1056 585.4 L1065 586.4 L1081 586.4 L1093 587 L1105 586.4 L1117 586.6 L1125 587 L1129 585 L1135 586 L1141 585.6 L1153 585 L1163 586 L1171 588 L1177 588.6 L1183 591 L1189 592.4 L1196 594.4 L1201 593 L1209 595 L1219 597.6 L1227 596 L1237 597 L1244 600 L1248.6 598 L1255.7 598.7 L1265.7 599.7 L1277.3 599.2 L1285.7 598 L1292.3 596.3 L1299 595.8 L1302.3 592.5 L1307.3 583.3 L1312.3 581.7 L1315.7 583.3 L1319.3 586.3 L1323.2 580 L1326.5 575.8 L1332.3 577.5 L1336.5 576.3 L1340.7 570 L1344 570 L1349.8 566.7 L1352.3 567.2 L1357.3 571.7 L1361.5 573.3 L1367.3 574.7 L1370.7 578.3 L1375.7 580 L1380.7 583.3 L1384 579.2 L1389 582 L1395.7 582.5 L1400.7 583.8 L1405.7 583 L1413.2 584.7" transform="translate(1,1)" fill="none" stroke="#000" stroke-opacity="0.15" stroke-width="1" stroke-linejoin="round" stroke-linecap="round"/>
<path d="M98 515 L101.4 517 L105 513 L110 512 L114 510 L119 498.4 L122.6 499.6 L130 491 L133.6 482.6 L137 492 L140 492.4 L144.6 496 L148 493 L155 495 L159.4 499.4 L162.6 499 L166 501 L170 502 L174 504.4 L177.4 502.4 L181 505 L186 510 L189 510 L192.6 513.6 L196 512.4 L203 518.6 L209 514 L217 508.4 L220 507.6 L224 510.6 L228 511.6 L231 509.4 L237 514.4 L243 517 L248 518.4 L252 516 L256 515.4 L260 516.4 L264 512.6 L269 514 L273 516 L281 516 L289 517 L294 525 L298 529.6 L303 535.6 L307 535.4 L312 537 L317 539 L321.4 538 L329 545.4 L335.4 550 L339 545 L343 545.4 L350 549 L357 547.4 L363 546.6 L368 546.4 L373 543.6 L379 539.6 L384.6 539.4 L385 540 L394 539 L404 540.4 L407.4 542.6 L411 539 L418 538.4 L422 536.4 L429 535 L433 538.4 L440 536.4 L447.4 539 L453 537.6 L458 537.4 L461.4 528 L469 524 L476 527 L481 525.6 L487 524 L490 520.6 L494 522 L498 519 L505 517 L509 515 L514 515 L519 514 L526 515.6 L530 518 L534 521 L540 521.4 L545 519.4 L549 522.6 L552.6 527 L557 524.4 L563 523 L569 525 L573 522 L577 522.6 L582 521.4 L588 522 L595 520.6 L602 521.4 L609 521 L612.6 518.4 L617 520.6 L622 519 L628 517 L632 513.6 L636 513.6 L641 515 L645 513.6 L650 516.4 L656 520 L663 519 L668 520.4 L672.6 520.4 L673 520 L682 521.6 L685.4 523.6 L689 521 L696 520.6 L700 519 L707 523 L710 521 L719 521.6 L725 520.4 L729 521 L735 528 L740 532 L747 530.6 L750 531 L755 535.6 L761 535.6 L764 533.6 L771 536.4 L782 537.4 L787 539.4 L791 538 L797 533.6 L802 533.4 L804.4 532 L808 535.6 L811.4 532.4 L816 536 L823 542 L826 543 L830 550.6 L837 551 L844 549.6 L850 552.4 L854.6 556.6 L861 558.4 L868 559.4 L875 561.4 L883 561.4 L890 563 L894 564.6 L898 563.6 L903 565 L907 567 L912 575.6 L916 576 L923 582.4 L927 584.4 L931 585 L936.6 589.6 L940.6 581 L945 580.6 L948.6 576.6 L952 578 L955.4 583 L959 580.6 L960.6 580 L961 581 L967 579 L970 577.6 L973 578.4 L977 578 L981 581 L986 584 L991 584.4 L998 581.6 L1007 581.6 L1015 582.4 L1027 581.4 L1038 581.4 L1042 588 L1047 586.4 L1051 587 L1056 585.4 L1065 586.4 L1081 586.4 L1093 587 L1105 586.4 L1117 586.6 L1125 587 L1129 585 L1135 586 L1141 585.6 L1153 585 L1163 586 L1171 588 L1177 588.6 L1183 591 L1189 592.4 L1196 594.4 L1201 593 L1209 595 L1219 597.6 L1227 596 L1237 597 L1244 600 L1248.6 598 L1255.7 598.7 L1265.7 599.7 L1277.3 599.2 L1285.7 598 L1292.3 596.3 L1299 595.8 L1302.3 592.5 L1307.3 583.3 L1312.3 581.7 L1315.7 583.3 L1319.3 586.3 L1323.2 580 L1326.5 575.8 L1332.3 577.5 L1336.5 576.3 L1340.7 570 L1344 570 L1349.8 566.7 L1352.3 567.2 L1357.3 571.7 L1361.5 573.3 L1367.3 574.7 L1370.7 578.3 L1375.7 580 L1380.7 583.3 L1384 579.2 L1389 582 L1395.7 582.5 L1400.7 583.8 L1405.7 583 L1413.2 584.7" fill="none" stroke="#474A7C" stroke-width="2" stroke-linejoin="round" stroke-linecap="round"/>
<path d="M98 628.4 L105 630 L113 631 L125 630.4 L135 632.4 L140 632 L145 630.4 L149.4 634.4 L153 636 L155.4 634 L159 626 L164 629 L167 630 L170 629 L177 630 L184 631 L188 627 L192 629 L196 628 L199 628.6 L205 631 L213 632.4 L222 633 L229 633.6 L235 632 L243 632.6 L251 633.4 L259 633.6 L266 632 L270.6 630 L274 631.6 L279 630.4 L285 631.6 L292 628.6 L297 630 L303 628.4 L307 629.6 L315 629 L321 630 L329 630 L335 633 L340 635 L347 636 L357 636.6 L367 637.4 L377 637.6 L384.6 639.6 L385 639 L395 639 L404 638.4 L408 635 L415 630 L422 627 L426 621.6 L430 625 L437 624 L446 625 L454 626.6 L459 624 L464 624.4 L468 620 L472.6 616 L477 618.6 L483 617.6 L489 620 L494 618 L499 620 L505 623 L511 625 L518 626.6 L523 624.4 L529 626 L534 628 L538 627 L545 628 L552 630 L557 628.6 L566 628 L573 624 L581 624.4 L589 624.4 L597 626 L605 627.4 L615 628 L625 627.4 L635 628.6 L645 629.4 L655 630 L663 632 L668 630 L672.6 629.6 L673 630 L683 631.6 L693 632.4 L705 632.4 L721 631.4 L728 629.4 L737 630.6 L749 631.4 L757 630.4 L765 631.6 L777 631.6 L789 631 L799 631.6 L809 633 L819 633 L829 634.4 L839 635.6 L844 634 L849 634.4 L855 635.6 L865 635.6 L875 636.6 L885 637 L895 638 L901 633 L908 635 L917 636 L927 636.4 L935 638.6 L945 640 L955 641 L960.6 641 L961 641 L971 640.4 L981 640.6 L985 641.6 L991 636 L1001 637.6 L1009 636.6 L1021 637.6 L1031 637.2 L1038 638 L1042 640.6 L1051 640.4 L1065 641.6 L1081 641.2 L1097 641.6 L1109 642.4 L1117 641.6 L1123 638.4 L1127 632.4 L1131 633.6 L1136 630.4 L1141 631.6 L1147 634.4 L1151 634.4 L1159 637 L1167 639 L1173 641 L1182 641.6 L1186 650 L1191 650.4 L1201 652 L1211 652 L1219 653.4 L1229 653.6 L1237 656 L1244 659 L1248.6 658.4 L1254 658.3 L1265.7 659.2 L1272.3 660.8 L1282.3 659.7 L1289 657.5 L1293.2 651.7 L1298.2 650 L1304 650.8 L1309 653 L1320.7 654.2 L1332.3 655 L1340.7 654.2 L1357.3 655.5 L1374 657.2 L1390.7 657.5 L1413.2 657.5 L1413.2 673.6 L98.0 673.6 Z" fill="#478E2E" fill-opacity="0.25"/>
<path d="M98 628.4 L105 630 L113 631 L125 630.4 L135 632.4 L140 632 L145 630.4 L149.4 634.4 L153 636 L155.4 634 L159 626 L164 629 L167 630 L170 629 L177 630 L184 631 L188 627 L192 629 L196 628 L199 628.6 L205 631 L213 632.4 L222 633 L229 633.6 L235 632 L243 632.6 L251 633.4 L259 633.6 L266 632 L270.6 630 L274 631.6 L279 630.4 L285 631.6 L292 628.6 L297 630 L303 628.4 L307 629.6 L315 629 L321 630 L329 630 L335 633 L340 635 L347 636 L357 636.6 L367 637.4 L377 637.6 L384.6 639.6 L385 639 L395 639 L404 638.4 L408 635 L415 630 L422 627 L426 621.6 L430 625 L437 624 L446 625 L454 626.6 L459 624 L464 624.4 L468 620 L472.6 616 L477 618.6 L483 617.6 L489 620 L494 618 L499 620 L505 623 L511 625 L518 626.6 L523 624.4 L529 626 L534 628 L538 627 L545 628 L552 630 L557 628.6 L566 628 L573 624 L581 624.4 L589 624.4 L597 626 L605 627.4 L615 628 L625 627.4 L635 628.6 L645 629.4 L655 630 L663 632 L668 630 L672.6 629.6 L673 630 L683 631.6 L693 632.4 L705 632.4 L721 631.4 L728 629.4 L737 630.6 L749 631.4 L757 630.4 L765 631.6 L777 631.6 L789 631 L799 631.6 L809 633 L819 633 L829 634.4 L839 635.6 L844 634 L849 634.4 L855 635.6 L865 635.6 L875 636.6 L885 637 L895 638 L901 633 L908 635 L917 636 L927 636.4 L935 638.6 L945 640 L955 641 L960.6 641 L961 641 L971 640.4 L981 640.6 L985 641.6 L991 636 L1001 637.6 L1009 636.6 L1021 637.6 L1031 637.2 L1038 638 L1042 640.6 L1051 640.4 L1065 641.6 L1081 641.2 L1097 641.6 L1109 642.4 L1117 641.6 L1123 638.4 L1127 632.4 L1131 633.6 L1136 630.4 L1141 631.6 L1147 634.4 L1151 634.4 L1159 637 L1167 639 L1173 641 L1182 641.6 L1186 650 L1191 650.4 L1201 652 L1211 652 L1219 653.4 L1229 653.6 L1237 656 L1244 659 L1248.6 658.4 L1254 658.3 L1265.7 659.2 L1272.3 660.8 L1282.3 659.7 L1289 657.5 L1293.2 651.7 L1298.2 650 L1304 650.8 L1309 653 L1320.7 654.2 L1332.3 655 L1340.7 654.2 L1357.3 655.5 L1374 657.2 L1390.7 657.5 L1413.2 657.5" transform="translate(1,1)" fill="none" stroke="#000" stroke-opacity="0.05" stroke-width="5" stroke-linejoin="round" stroke-linecap="round"/>
<path d="M98 628.4 L105 630 L113 631 L125 630.4 L135 632.4 L140 632 L145 630.4 L149.4 634.4 L153 636 L155.4 634 L159 626 L164 629 L167 630 L170 629 L177 630 L184 631 L188 627 L192 629 L196 628 L199 628.6 L205 631 L213 632.4 L222 633 L229 633.6 L235 632 L243 632.6 L251 633.4 L259 633.6 L266 632 L270.6 630 L274 631.6 L279 630.4 L285 631.6 L292 628.6 L297 630 L303 628.4 L307 629.6 L315 629 L321 630 L329 630 L335 633 L340 635 L347 636 L357 636.6 L367 637.4 L377 637.6 L384.6 639.6 L385 639 L395 639 L404 638.4 L408 635 L415 630 L422 627 L426 621.6 L430 625 L437 624 L446 625 L454 626.6 L459 624 L464 624.4 L468 620 L472.6 616 L477 618.6 L483 617.6 L489 620 L494 618 L499 620 L505 623 L511 625 L518 626.6 L523 624.4 L529 626 L534 628 L538 627 L545 628 L552 630 L557 628.6 L566 628 L573 624 L581 624.4 L589 624.4 L597 626 L605 627.4 L615 628 L625 627.4 L635 628.6 L645 629.4 L655 630 L663 632 L668 630 L672.6 629.6 L673 630 L683 631.6 L693 632.4 L705 632.4 L721 631.4 L728 629.4 L737 630.6 L749 631.4 L757 630.4 L765 631.6 L777 631.6 L789 631 L799 631.6 L809 633 L819 633 L829 634.4 L839 635.6 L844 634 L849 634.4 L855 635.6 L865 635.6 L875 636.6 L885 637 L895 638 L901 633 L908 635 L917 636 L927 636.4 L935 638.6 L945 640 L955 641 L960.6 641 L961 641 L971 640.4 L981 640.6 L985 641.6 L991 636 L1001 637.6 L1009 636.6 L1021 637.6 L1031 637.2 L1038 638 L1042 640.6 L1051 640.4 L1065 641.6 L1081 641.2 L1097 641.6 L1109 642.4 L1117 641.6 L1123 638.4 L1127 632.4 L1131 633.6 L1136 630.4 L1141 631.6 L1147 634.4 L1151 634.4 L1159 637 L1167 639 L1173 641 L1182 641.6 L1186 650 L1191 650.4 L1201 652 L1211 652 L1219 653.4 L1229 653.6 L1237 656 L1244 659 L1248.6 658.4 L1254 658.3 L1265.7 659.2 L1272.3 660.8 L1282.3 659.7 L1289 657.5 L1293.2 651.7 L1298.2 650 L1304 650.8 L1309 653 L1320.7 654.2 L1332.3 655 L1340.7 654.2 L1357.3 655.5 L1374 657.2 L1390.7 657.5 L1413.2 657.5" transform="translate(1,1)" fill="none" stroke="#000" stroke-opacity="0.1" stroke-width="3" stroke-linejoin="round" stroke-linecap="round"/>
<path d="M98 628.4 L105 630 L113 631 L125 630.4 L135 632.4 L140 632 L145 630.4 L149.4 634.4 L153 636 L155.4 634 L159 626 L164 629 L167 630 L170 629 L177 630 L184 631 L188 627 L192 629 L196 628 L199 628.6 L205 631 L213 632.4 L222 633 L229 633.6 L235 632 L243 632.6 L251 633.4 L259 633.6 L266 632 L270.6 630 L274 631.6 L279 630.4 L285 631.6 L292 628.6 L297 630 L303 628.4 L307 629.6 L315 629 L321 630 L329 630 L335 633 L340 635 L347 636 L357 636.6 L367 637.4 L377 637.6 L384.6 639.6 L385 639 L395 639 L404 638.4 L408 635 L415 630 L422 627 L426 621.6 L430 625 L437 624 L446 625 L454 626.6 L459 624 L464 624.4 L468 620 L472.6 616 L477 618.6 L483 617.6 L489 620 L494 618 L499 620 L505 623 L511 625 L518 626.6 L523 624.4 L529 626 L534 628 L538 627 L545 628 L552 630 L557 628.6 L566 628 L573 624 L581 624.4 L589 624.4 L597 626 L605 627.4 L615 628 L625 627.4 L635 628.6 L645 629.4 L655 630 L663 632 L668 630 L672.6 629.6 L673 630 L683 631.6 L693 632.4 L705 632.4 L721 631.4 L728 629.4 L737 630.6 L749 631.4 L757 630.4 L765 631.6 L777 631.6 L789 631 L799 631.6 L809 633 L819 633 L829 634.4 L839 635.6 L844 634 L849 634.4 L855 635.6 L865 635.6 L875 636.6 L885 637 L895 638 L901 633 L908 635 L917 636 L927 636.4 L935 638.6 L945 640 L955 641 L960.6 641 L961 641 L971 640.4 L981 640.6 L985 641.6 L991 636 L1001 637.6 L1009 636.6 L1021 637.6 L1031 637.2 L1038 638 L1042 640.6 L1051 640.4 L1065 641.6 L1081 641.2 L1097 641.6 L1109 642.4 L1117 641.6 L1123 638.4 L1127 632.4 L1131 633.6 L1136 630.4 L1141 631.6 L1147 634.4 L1151 634.4 L1159 637 L1167 639 L1173 641 L1182 641.6 L1186 650 L1191 650.4 L1201 652 L1211 652 L1219 653.4 L1229 653.6 L1237 656 L1244 659 L1248.6 658.4 L1254 658.3 L1265.7 659.2 L1272.3 660.8 L1282.3 659.7 L1289 657.5 L1293.2 651.7 L1298.2 650 L1304 650.8 L1309 653 L1320.7 654.2 L1332.3 655 L1340.7 654.2 L1357.3 655.5 L1374 657.2 L1390.7 657.5 L1413.2 657.5" transform="translate(1,1)" fill="none" stroke="#000" stroke-opacity="0.15" stroke-width="1" stroke-linejoin="round" stroke-linecap="round"/>
<path d="M98 628.4 L105 630 L113 631 L125 630.4 L135 632.4 L140 632 L145 630.4 L149.4 634.4 L153 636 L155.4 634 L159 626 L164 629 L167 630 L170 629 L177 630 L184 631 L188 627 L192 629 L196 628 L199 628.6 L205 631 L213 632.4 L222 633 L229 633.6 L235 632 L243 632.6 L251 633.4 L259 633.6 L266 632 L270.6 630 L274 631.6 L279 630.4 L285 631.6 L292 628.6 L297 630 L303 628.4 L307 629.6 L315 629 L321 630 L329 630 L335 633 L340 635 L347 636 L357 636.6 L367 637.4 L377 637.6 L384.6 639.6 L385 639 L395 639 L404 638.4 L408 635 L415 630 L422 627 L426 621.6 L430 625 L437 624 L446 625 L454 626.6 L459 624 L464 624.4 L468 620 L472.6 616 L477 618.6 L483 617.6 L489 620 L494 618 L499 620 L505 623 L511 625 L518 626.6 L523 624.4 L529 626 L534 628 L538 627 L545 628 L552 630 L557 628.6 L566 628 L573 624 L581 624.4 L589 624.4 L597 626 L605 627.4 L615 628 L625 627.4 L635 628.6 L645 629.4 L655 630 L663 632 L668 630 L672.6 629.6 L673 630 L683 631.6 L693 632.4 L705 632.4 L721 631.4 L728 629.4 L737 630.6 L749 631.4 L757 630.4 L765 631.6 L777 631.6 L789 631 L799 631.6 L809 633 L819 633 L829 634.4 L839 635.6 L844 634 L849 634.4 L855 635.6 L865 635.6 L875 636.6 L885 637 L895 638 L901 633 L908 635 L917 636 L927 636.4 L935 638.6 L945 640 L955 641 L960.6 641 L961 641 L971 640.4 L981 640.6 L985 641.6 L991 636 L1001 637.6 L1009 636.6 L1021 637.6 L1031 637.2 L1038 638 L1042 640.6 L1051 640.4 L1065 641.6 L1081 641.2 L1097 641.6 L1109 642.4 L1117 641.6 L1123 638.4 L1127 632.4 L1131 633.6 L1136 630.4 L1141 631.6 L1147 634.4 L1151 634.4 L1159 637 L1167 639 L1173 641 L1182 641.6 L1186 650 L1191 650.4 L1201 652 L1211 652 L1219 653.4 L1229 653.6 L1237 656 L1244 659 L1248.6 658.4 L1254 658.3 L1265.7 659.2 L1272.3 660.8 L1282.3 659.7 L1289 657.5 L1293.2 651.7 L1298.2 650 L1304 650.8 L1309 653 L1320.7 654.2 L1332.3 655 L1340.7 654.2 L1357.3 655.5 L1374 657.2 L1390.7 657.5 L1413.2 657.5" fill="none" stroke="#478E2E" stroke-width="2" stroke-linejoin="round" stroke-linecap="round"/>
<path d="M98 657.6 L137 656 L147 654.4 L176 654 L181 651 L197 651.6 L209 651 L220 649 L229 651 L253 652.4 L267 650.4 L287 649.4 L317 650 L337 652.4 L357 651.6 L384.6 653 L403 653 L409 654 L445 655 L465 654.4 L505 655.6 L545 656 L565 655.4 L605 656.4 L645 657.4 L672.6 657.6 L733 658.4 L793 659 L853 659.4 L913 659 L960.6 658.4 L1041 659.6 L1121 660 L1181 661 L1221 661 L1248.6 661.6 L1265.7 662 L1275.7 663 L1299 661.3 L1332.3 660.8 L1349 658.7 L1365.7 659.2 L1382.3 660 L1413.2 660.8 L1413.2 673.6 L98.0 673.6 Z" fill="#838383" fill-opacity="0.25"/>
<path d="M98 657.6 L137 656 L147 654.4 L176 654 L181 651 L197 651.6 L209 651 L220 649 L229 651 L253 652.4 L267 650.4 L287 649.4 L317 650 L337 652.4 L357 651.6 L384.6 653 L403 653 L409 654 L445 655 L465 654.4 L505 655.6 L545 656 L565 655.4 L605 656.4 L645 657.4 L672.6 657.6 L733 658.4 L793 659 L853 659.4 L913 659 L960.6 658.4 L1041 659.6 L1121 660 L1181 661 L1221 661 L1248.6 661.6 L1265.7 662 L1275.7 663 L1299 661.3 L1332.3 660.8 L1349 658.7 L1365.7 659.2 L1382.3 660 L1413.2 660.8" transform="translate(1,1)" fill="none" stroke="#000" stroke-opacity="0.05" stroke-width="5" stroke-linejoin="round" stroke-linecap="round"/>
<path d="M98 657.6 L137 656 L147 654.4 L176 654 L181 651 L197 651.6 L209 651 L220 649 L229 651 L253 652.4 L267 650.4 L287 649.4 L317 650 L337 652.4 L357 651.6 L384.6 653 L403 653 L409 654 L445 655 L465 654.4 L505 655.6 L545 656 L565 655.4 L605 656.4 L645 657.4 L672.6 657.6 L733 658.4 L793 659 L853 659.4 L913 659 L960.6 658.4 L1041 659.6 L1121 660 L1181 661 L1221 661 L1248.6 661.6 L1265.7 662 L1275.7 663 L1299 661.3 L1332.3 660.8 L1349 658.7 L1365.7 659.2 L1382.3 660 L1413.2 660.8" transform="translate(1,1)" fill="none" stroke="#000" stroke-opacity="0.1" stroke-width="3" stroke-linejoin="round" stroke-linecap="round"/>
<path d="M98 657.6 L137 656 L147 654.4 L176 654 L181 651 L197 651.6 L209 651 L220 649 L229 651 L253 652.4 L267 650.4 L287 649.4 L317 650 L337 652.4 L357 651.6 L384.6 653 L403 653 L409 654 L445 655 L465 654.4 L505 655.6 L545 656 L565 655.4 L605 656.4 L645 657.4 L672.6 657.6 L733 658.4 L793 659 L853 659.4 L913 659 L960.6 658.4 L1041 659.6 L1121 660 L1181 661 L1221 661 L1248.6 661.6 L1265.7 662 L1275.7 663 L1299 661.3 L1332.3 660.8 L1349 658.7 L1365.7 659.2 L1382.3 660 L1413.2 660.8" transform="translate(1,1)" fill="none" stroke="#000" stroke-opacity="0.15" stroke-width="1" stroke-linejoin="round" stroke-linecap="round"/>
<path d="M98 657.6 L137 656 L147 654.4 L176 654 L181 651 L197 651.6 L209 651 L220 649 L229 651 L253 652.4 L267 650.4 L287 649.4 L317 650 L337 652.4 L357 651.6 L384.6 653 L403 653 L409 654 L445 655 L465 654.4 L505 655.6 L545 656 L565 655.4 L605 656.4 L645 657.4 L672.6 657.6 L733 658.4 L793 659 L853 659.4 L913 659 L960.6 658.4 L1041 659.6 L1121 660 L1181 661 L1221 661 L1248.6 661.6 L1265.7 662 L1275.7 663 L1299 661.3 L1332.3 660.8 L1349 658.7 L1365.7 659.2 L1382.3 660 L1413.2 660.8" fill="none" stroke="#838383" stroke-width="2" stroke-linejoin="round" stroke-linecap="round"/>
<path d="M98 590 L101.4 589 L106 593 L112 598 L116 600.6 L119 594 L124 596.4 L129 599 L134 602 L140 605 L145 603 L149 602 L153 604.4 L156.4 607 L160 604.4 L163 598 L166 587.4 L172 589 L178 590.6 L181 590 L185 593 L189 595 L194 595 L199 597 L204 599 L209 600 L214 598.6 L219 599.4 L225 602 L230 604 L236 605.6 L242 608 L245.4 601.6 L249.4 603.6 L255 601 L263 598 L268 599 L272 601 L279 601.6 L286 602.6 L291 604 L295 603 L299 599.6 L304 604.4 L309 606.6 L315 609.6 L321 608 L327 608.6 L333 608.4 L340 607.6 L349 610 L353 606.6 L358 608 L365 609.6 L373 610 L379 611 L384.6 606.4 L385 607 L390 605 L393 606.4 L400 605 L406 604 L411 601 L415 594 L420 598 L428 600 L434 604 L443 606 L451 607 L458 606.4 L467 608 L475 610 L483 611.6 L493 613.6 L499 611.6 L505 612.4 L510 611.6 L517 612.4 L527 613 L537 610.4 L545 611 L553 612 L559 610.4 L569 609.6 L577 607.6 L587 607 L597 607.4 L603 606 L609 606.6 L617 608 L627 610 L635 609.6 L643 608.6 L653 609 L662 609 L669 612 L672.6 613 L673 613.6 L681 611.6 L689 613 L699 614.4 L707 613 L717 613 L729 613.6 L737 617 L745 619 L753 620 L759 622 L767 620.6 L779 621.6 L785 618 L789 618.6 L795 616 L801 616.4 L807 619.6 L813 622.6 L817 622.4 L823 625.6 L831 627.6 L839 626 L843 618 L847 620.4 L851 619 L855 620 L861 619.6 L871 621.6 L881 621.6 L891 622.6 L901 624 L909 625.6 L912 628 L916 623.6 L923 624.4 L931 626.4 L939 625.6 L953 625 L958 618 L960.6 617 L961 619 L964 618 L966 604 L969 588 L973 585.6 L977 586.4 L981 594.4 L984 586.4 L989 589.6 L994 589.6 L998 585 L1004 583.6 L1007 585 L1010 591 L1015 589 L1021 592 L1027 596 L1035 598 L1039 601 L1042.6 607 L1046 601 L1050 602.4 L1053 603.6 L1057 599.6 L1062 597 L1073 597.6 L1081 598.6 L1089 597.6 L1101 598 L1113 597.6 L1121 597 L1127 596.6 L1131 594 L1135.4 586.4 L1139 589 L1143 593 L1150 591.6 L1157 590 L1162 588 L1167 585 L1171 584 L1178 579 L1182 572 L1186 568.6 L1193 569.6 L1198 572 L1201 569.6 L1206 572.6 L1212 574 L1219 577.6 L1225 577 L1232 578 L1240 576.4 L1248.6 575 L1254 575.8 L1259.8 575.3 L1265.7 574.2 L1269.8 572.5 L1274.8 573.7 L1280.7 574.2 L1286.5 570.5 L1290.7 570.8 L1297.3 574.2 L1304 576.3 L1308.2 569.2 L1313.2 569.7 L1317.3 572.5 L1320.7 574.2 L1332.3 574.7 L1340.7 575.8 L1349 578.3 L1357.3 579.2 L1367.3 578 L1375.7 578.3 L1385.7 578 L1395.7 578.7 L1405.7 579.2 L1413.2 578.7 L1413.2 673.6 L98.0 673.6 Z" fill="#18A0DC" fill-opacity="0.25"/>
<path d="M98 590 L101.4 589 L106 593 L112 598 L116 600.6 L119 594 L124 596.4 L129 599 L134 602 L140 605 L145 603 L149 602 L153 604.4 L156.4 607 L160 604.4 L163 598 L166 587.4 L172 589 L178 590.6 L181 590 L185 593 L189 595 L194 595 L199 597 L204 599 L209 600 L214 598.6 L219 599.4 L225 602 L230 604 L236 605.6 L242 608 L245.4 601.6 L249.4 603.6 L255 601 L263 598 L268 599 L272 601 L279 601.6 L286 602.6 L291 604 L295 603 L299 599.6 L304 604.4 L309 606.6 L315 609.6 L321 608 L327 608.6 L333 608.4 L340 607.6 L349 610 L353 606.6 L358 608 L365 609.6 L373 610 L379 611 L384.6 606.4 L385 607 L390 605 L393 606.4 L400 605 L406 604 L411 601 L415 594 L420 598 L428 600 L434 604 L443 606 L451 607 L458 606.4 L467 608 L475 610 L483 611.6 L493 613.6 L499 611.6 L505 612.4 L510 611.6 L517 612.4 L527 613 L537 610.4 L545 611 L553 612 L559 610.4 L569 609.6 L577 607.6 L587 607 L597 607.4 L603 606 L609 606.6 L617 608 L627 610 L635 609.6 L643 608.6 L653 609 L662 609 L669 612 L672.6 613 L673 613.6 L681 611.6 L689 613 L699 614.4 L707 613 L717 613 L729 613.6 L737 617 L745 619 L753 620 L759 622 L767 620.6 L779 621.6 L785 618 L789 618.6 L795 616 L801 616.4 L807 619.6 L813 622.6 L817 622.4 L823 625.6 L831 627.6 L839 626 L843 618 L847 620.4 L851 619 L855 620 L861 619.6 L871 621.6 L881 621.6 L891 622.6 L901 624 L909 625.6 L912 628 L916 623.6 L923 624.4 L931 626.4 L939 625.6 L953 625 L958 618 L960.6 617 L961 619 L964 618 L966 604 L969 588 L973 585.6 L977 586.4 L981 594.4 L984 586.4 L989 589.6 L994 589.6 L998 585 L1004 583.6 L1007 585 L1010 591 L1015 589 L1021 592 L1027 596 L1035 598 L1039 601 L1042.6 607 L1046 601 L1050 602.4 L1053 603.6 L1057 599.6 L1062 597 L1073 597.6 L1081 598.6 L1089 597.6 L1101 598 L1113 597.6 L1121 597 L1127 596.6 L1131 594 L1135.4 586.4 L1139 589 L1143 593 L1150 591.6 L1157 590 L1162 588 L1167 585 L1171 584 L1178 579 L1182 572 L1186 568.6 L1193 569.6 L1198 572 L1201 569.6 L1206 572.6 L1212 574 L1219 577.6 L1225 577 L1232 578 L1240 576.4 L1248.6 575 L1254 575.8 L1259.8 575.3 L1265.7 574.2 L1269.8 572.5 L1274.8 573.7 L1280.7 574.2 L1286.5 570.5 L1290.7 570.8 L1297.3 574.2 L1304 576.3 L1308.2 569.2 L1313.2 569.7 L1317.3 572.5 L1320.7 574.2 L1332.3 574.7 L1340.7 575.8 L1349 578.3 L1357.3 579.2 L1367.3 578 L1375.7 578.3 L1385.7 578 L1395.7 578.7 L1405.7 579.2 L1413.2 578.7" transform="translate(1,1)" fill="none" stroke="#000" stroke-opacity="0.05" stroke-width="5" stroke-linejoin="round" stroke-linecap="round"/>
<path d="M98 590 L101.4 589 L106 593 L112 598 L116 600.6 L119 594 L124 596.4 L129 599 L134 602 L140 605 L145 603 L149 602 L153 604.4 L156.4 607 L160 604.4 L163 598 L166 587.4 L172 589 L178 590.6 L181 590 L185 593 L189 595 L194 595 L199 597 L204 599 L209 600 L214 598.6 L219 599.4 L225 602 L230 604 L236 605.6 L242 608 L245.4 601.6 L249.4 603.6 L255 601 L263 598 L268 599 L272 601 L279 601.6 L286 602.6 L291 604 L295 603 L299 599.6 L304 604.4 L309 606.6 L315 609.6 L321 608 L327 608.6 L333 608.4 L340 607.6 L349 610 L353 606.6 L358 608 L365 609.6 L373 610 L379 611 L384.6 606.4 L385 607 L390 605 L393 606.4 L400 605 L406 604 L411 601 L415 594 L420 598 L428 600 L434 604 L443 606 L451 607 L458 606.4 L467 608 L475 610 L483 611.6 L493 613.6 L499 611.6 L505 612.4 L510 611.6 L517 612.4 L527 613 L537 610.4 L545 611 L553 612 L559 610.4 L569 609.6 L577 607.6 L587 607 L597 607.4 L603 606 L609 606.6 L617 608 L627 610 L635 609.6 L643 608.6 L653 609 L662 609 L669 612 L672.6 613 L673 613.6 L681 611.6 L689 613 L699 614.4 L707 613 L717 613 L729 613.6 L737 617 L745 619 L753 620 L759 622 L767 620.6 L779 621.6 L785 618 L789 618.6 L795 616 L801 616.4 L807 619.6 L813 622.6 L817 622.4 L823 625.6 L831 627.6 L839 626 L843 618 L847 620.4 L851 619 L855 620 L861 619.6 L871 621.6 L881 621.6 L891 622.6 L901 624 L909 625.6 L912 628 L916 623.6 L923 624.4 L931 626.4 L939 625.6 L953 625 L958 618 L960.6 617 L961 619 L964 618 L966 604 L969 588 L973 585.6 L977 586.4 L981 594.4 L984 586.4 L989 589.6 L994 589.6 L998 585 L1004 583.6 L1007 585 L1010 591 L1015 589 L1021 592 L1027 596 L1035 598 L1039 601 L1042.6 607 L1046 601 L1050 602.4 L1053 603.6 L1057 599.6 L1062 597 L1073 597.6 L1081 598.6 L1089 597.6 L1101 598 L1113 597.6 L1121 597 L1127 596.6 L1131 594 L1135.4 586.4 L1139 589 L1143 593 L1150 591.6 L1157 590 L1162 588 L1167 585 L1171 584 L1178 579 L1182 572 L1186 568.6 L1193 569.6 L1198 572 L1201 569.6 L1206 572.6 L1212 574 L1219 577.6 L1225 577 L1232 578 L1240 576.4 L1248.6 575 L1254 575.8 L1259.8 575.3 L1265.7 574.2 L1269.8 572.5 L1274.8 573.7 L1280.7 574.2 L1286.5 570.5 L1290.7 570.8 L1297.3 574.2 L1304 576.3 L1308.2 569.2 L1313.2 569.7 L1317.3 572.5 L1320.7 574.2 L1332.3 574.7 L1340.7 575.8 L1349 578.3 L1357.3 579.2 L1367.3 578 L1375.7 578.3 L1385.7 578 L1395.7 578.7 L1405.7 579.2 L1413.2 578.7" transform="translate(1,1)" fill="none" stroke="#000" stroke-opacity="0.1" stroke-width="3" stroke-linejoin="round" stroke-linecap="round"/>
<path d="M98 590 L101.4 589 L106 593 L112 598 L116 600.6 L119 594 L124 596.4 L129 599 L134 602 L140 605 L145 603 L149 602 L153 604.4 L156.4 607 L160 604.4 L163 598 L166 587.4 L172 589 L178 590.6 L181 590 L185 593 L189 595 L194 595 L199 597 L204 599 L209 600 L214 598.6 L219 599.4 L225 602 L230 604 L236 605.6 L242 608 L245.4 601.6 L249.4 603.6 L255 601 L263 598 L268 599 L272 601 L279 601.6 L286 602.6 L291 604 L295 603 L299 599.6 L304 604.4 L309 606.6 L315 609.6 L321 608 L327 608.6 L333 608.4 L340 607.6 L349 610 L353 606.6 L358 608 L365 609.6 L373 610 L379 611 L384.6 606.4 L385 607 L390 605 L393 606.4 L400 605 L406 604 L411 601 L415 594 L420 598 L428 600 L434 604 L443 606 L451 607 L458 606.4 L467 608 L475 610 L483 611.6 L493 613.6 L499 611.6 L505 612.4 L510 611.6 L517 612.4 L527 613 L537 610.4 L545 611 L553 612 L559 610.4 L569 609.6 L577 607.6 L587 607 L597 607.4 L603 606 L609 606.6 L617 608 L627 610 L635 609.6 L643 608.6 L653 609 L662 609 L669 612 L672.6 613 L673 613.6 L681 611.6 L689 613 L699 614.4 L707 613 L717 613 L729 613.6 L737 617 L745 619 L753 620 L759 622 L767 620.6 L779 621.6 L785 618 L789 618.6 L795 616 L801 616.4 L807 619.6 L813 622.6 L817 622.4 L823 625.6 L831 627.6 L839 626 L843 618 L847 620.4 L851 619 L855 620 L861 619.6 L871 621.6 L881 621.6 L891 622.6 L901 624 L909 625.6 L912 628 L916 623.6 L923 624.4 L931 626.4 L939 625.6 L953 625 L958 618 L960.6 617 L961 619 L964 618 L966 604 L969 588 L973 585.6 L977 586.4 L981 594.4 L984 586.4 L989 589.6 L994 589.6 L998 585 L1004 583.6 L1007 585 L1010 591 L1015 589 L1021 592 L1027 596 L1035 598 L1039 601 L1042.6 607 L1046 601 L1050 602.4 L1053 603.6 L1057 599.6 L1062 597 L1073 597.6 L1081 598.6 L1089 597.6 L1101 598 L1113 597.6 L1121 597 L1127 596.6 L1131 594 L1135.4 586.4 L1139 589 L1143 593 L1150 591.6 L1157 590 L1162 588 L1167 585 L1171 584 L1178 579 L1182 572 L1186 568.6 L1193 569.6 L1198 572 L1201 569.6 L1206 572.6 L1212 574 L1219 577.6 L1225 577 L1232 578 L1240 576.4 L1248.6 575 L1254 575.8 L1259.8 575.3 L1265.7 574.2 L1269.8 572.5 L1274.8 573.7 L1280.7 574.2 L1286.5 570.5 L1290.7 570.8 L1297.3 574.2 L1304 576.3 L1308.2 569.2 L1313.2 569.7 L1317.3 572.5 L1320.7 574.2 L1332.3 574.7 L1340.7 575.8 L1349 578.3 L1357.3 579.2 L1367.3 578 L1375.7 578.3 L1385.7 578 L1395.7 578.7 L1405.7 579.2 L1413.2 578.7" transform="translate(1,1)" fill="none" stroke="#000" stroke-opacity="0.15" stroke-width="1" stroke-linejoin="round" stroke-linecap="round"/>
<path d="M98 590 L101.4 589 L106 593 L112 598 L116 600.6 L119 594 L124 596.4 L129 599 L134 602 L140 605 L145 603 L149 602 L153 604.4 L156.4 607 L160 604.4 L163 598 L166 587.4 L172 589 L178 590.6 L181 590 L185 593 L189 595 L194 595 L199 597 L204 599 L209 600 L214 598.6 L219 599.4 L225 602 L230 604 L236 605.6 L242 608 L245.4 601.6 L249.4 603.6 L255 601 L263 598 L268 599 L272 601 L279 601.6 L286 602.6 L291 604 L295 603 L299 599.6 L304 604.4 L309 606.6 L315 609.6 L321 608 L327 608.6 L333 608.4 L340 607.6 L349 610 L353 606.6 L358 608 L365 609.6 L373 610 L379 611 L384.6 606.4 L385 607 L390 605 L393 606.4 L400 605 L406 604 L411 601 L415 594 L420 598 L428 600 L434 604 L443 606 L451 607 L458 606.4 L467 608 L475 610 L483 611.6 L493 613.6 L499 611.6 L505 612.4 L510 611.6 L517 612.4 L527 613 L537 610.4 L545 611 L553 612 L559 610.4 L569 609.6 L577 607.6 L587 607 L597 607.4 L603 606 L609 606.6 L617 608 L627 610 L635 609.6 L643 608.6 L653 609 L662 609 L669 612 L672.6 613 L673 613.6 L681 611.6 L689 613 L699 614.4 L707 613 L717 613 L729 613.6 L737 617 L745 619 L753 620 L759 622 L767 620.6 L779 621.6 L785 618 L789 618.6 L795 616 L801 616.4 L807 619.6 L813 622.6 L817 622.4 L823 625.6 L831 627.6 L839 626 L843 618 L847 620.4 L851 619 L855 620 L861 619.6 L871 621.6 L881 621.6 L891 622.6 L901 624 L909 625.6 L912 628 L916 623.6 L923 624.4 L931 626.4 L939 625.6 L953 625 L958 618 L960.6 617 L961 619 L964 618 L966 604 L969 588 L973 585.6 L977 586.4 L981 594.4 L984 586.4 L989 589.6 L994 589.6 L998 585 L1004 583.6 L1007 585 L1010 591 L1015 589 L1021 592 L1027 596 L1035 598 L1039 601 L1042.6 607 L1046 601 L1050 602.4 L1053 603.6 L1057 599.6 L1062 597 L1073 597.6 L1081 598.6 L1089 597.6 L1101 598 L1113 597.6 L1121 597 L1127 596.6 L1131 594 L1135.4 586.4 L1139 589 L1143 593 L1150 591.6 L1157 590 L1162 588 L1167 585 L1171 584 L1178 579 L1182 572 L1186 568.6 L1193 569.6 L1198 572 L1201 569.6 L1206 572.6 L1212 574 L1219 577.6 L1225 577 L1232 578 L1240 576.4 L1248.6 575 L1254 575.8 L1259.8 575.3 L1265.7 574.2 L1269.8 572.5 L1274.8 573.7 L1280.7 574.2 L1286.5 570.5 L1290.7 570.8 L1297.3 574.2 L1304 576.3 L1308.2 569.2 L1313.2 569.7 L1317.3 572.5 L1320.7 574.2 L1332.3 574.7 L1340.7 575.8 L1349 578.3 L1357.3 579.2 L1367.3 578 L1375.7 578.3 L1385.7 578 L1395.7 578.7 L1405.7 579.2 L1413.2 578.7" fill="none" stroke="#18A0DC" stroke-width="3" stroke-linejoin="round" stroke-linecap="round"/>
<path d="M98 665.3 L177 665.7 L257 664.9 L337 666.3 L384.6 666.3 L445 666.3 L525 666.7 L605 666.9 L672.6 667.3 L733 667.3 L813 667.9 L873 667.3 L903 665.9 L960.6 665.7 L1041 666.7 L1121 666.9 L1181 667.3 L1248.6 667.7 L1265.7 668.3 L1413.2 669 L1413.2 673.6 L98.0 673.6 Z" fill="#1574B8" fill-opacity="0.25"/>
<path d="M98 665.3 L177 665.7 L257 664.9 L337 666.3 L384.6 666.3 L445 666.3 L525 666.7 L605 666.9 L672.6 667.3 L733 667.3 L813 667.9 L873 667.3 L903 665.9 L960.6 665.7 L1041 666.7 L1121 666.9 L1181 667.3 L1248.6 667.7 L1265.7 668.3 L1413.2 669" transform="translate(1,1)" fill="none" stroke="#000" stroke-opacity="0.05" stroke-width="5" stroke-linejoin="round" stroke-linecap="round"/>
<path d="M98 665.3 L177 665.7 L257 664.9 L337 666.3 L384.6 666.3 L445 666.3 L525 666.7 L605 666.9 L672.6 667.3 L733 667.3 L813 667.9 L873 667.3 L903 665.9 L960.6 665.7 L1041 666.7 L1121 666.9 L1181 667.3 L1248.6 667.7 L1265.7 668.3 L1413.2 669" transform="translate(1,1)" fill="none" stroke="#000" stroke-opacity="0.1" stroke-width="3" stroke-linejoin="round" stroke-linecap="round"/>
<path d="M98 665.3 L177 665.7 L257 664.9 L337 666.3 L384.6 666.3 L445 666.3 L525 666.7 L605 666.9 L672.6 667.3 L733 667.3 L813 667.9 L873 667.3 L903 665.9 L960.6 665.7 L1041 666.7 L1121 666.9 L1181 667.3 L1248.6 667.7 L1265.7 668.3 L1413.2 669" transform="translate(1,1)" fill="none" stroke="#000" stroke-opacity="0.15" stroke-width="1" stroke-linejoin="round" stroke-linecap="round"/>
<path d="M98 665.3 L177 665.7 L257 664.9 L337 666.3 L384.6 666.3 L445 666.3 L525 666.7 L605 666.9 L672.6 667.3 L733 667.3 L813 667.9 L873 667.3 L903 665.9 L960.6 665.7 L1041 666.7 L1121 666.9 L1181 667.3 L1248.6 667.7 L1265.7 668.3 L1413.2 669" fill="none" stroke="#1574B8" stroke-width="2" stroke-linejoin="round" stroke-linecap="round"/>
<path d="M98 660 L110 663 L137 664.4 L177 665.6 L257 666.2 L337 667.6 L384.6 667.6 L445 667.6 L525 668 L605 668.2 L672.6 668.6 L733 668.6 L813 669.2 L873 668.6 L903 667.2 L960.6 667 L1041 668 L1121 668.2 L1181 668.6 L1248.6 669 L1265.7 669.6 L1413.2 670.3 L1413.2 673.6 L98.0 673.6 Z" fill="#FBB90D" fill-opacity="0.25"/>
<path d="M98 660 L110 663 L137 664.4 L177 665.6 L257 666.2 L337 667.6 L384.6 667.6 L445 667.6 L525 668 L605 668.2 L672.6 668.6 L733 668.6 L813 669.2 L873 668.6 L903 667.2 L960.6 667 L1041 668 L1121 668.2 L1181 668.6 L1248.6 669 L1265.7 669.6 L1413.2 670.3" transform="translate(1,1)" fill="none" stroke="#000" stroke-opacity="0.05" stroke-width="5" stroke-linejoin="round" stroke-linecap="round"/>
<path d="M98 660 L110 663 L137 664.4 L177 665.6 L257 666.2 L337 667.6 L384.6 667.6 L445 667.6 L525 668 L605 668.2 L672.6 668.6 L733 668.6 L813 669.2 L873 668.6 L903 667.2 L960.6 667 L1041 668 L1121 668.2 L1181 668.6 L1248.6 669 L1265.7 669.6 L1413.2 670.3" transform="translate(1,1)" fill="none" stroke="#000" stroke-opacity="0.1" stroke-width="3" stroke-linejoin="round" stroke-linecap="round"/>
<path d="M98 660 L110 663 L137 664.4 L177 665.6 L257 666.2 L337 667.6 L384.6 667.6 L445 667.6 L525 668 L605 668.2 L672.6 668.6 L733 668.6 L813 669.2 L873 668.6 L903 667.2 L960.6 667 L1041 668 L1121 668.2 L1181 668.6 L1248.6 669 L1265.7 669.6 L1413.2 670.3" transform="translate(1,1)" fill="none" stroke="#000" stroke-opacity="0.15" stroke-width="1" stroke-linejoin="round" stroke-linecap="round"/>
<path d="M98 660 L110 663 L137 664.4 L177 665.6 L257 666.2 L337 667.6 L384.6 667.6 L445 667.6 L525 668 L605 668.2 L672.6 668.6 L733 668.6 L813 669.2 L873 668.6 L903 667.2 L960.6 667 L1041 668 L1121 668.2 L1181 668.6 L1248.6 669 L1265.7 669.6 L1413.2 670.3" fill="none" stroke="#FBB90D" stroke-width="2" stroke-linejoin="round" stroke-linecap="round"/>
<path d="M98 664 L177 664.4 L257 663.6 L337 665 L384.6 665 L445 665 L525 665.4 L605 665.6 L672.6 666 L733 666 L813 666.6 L873 666 L903 664.6 L960.6 664.4 L1041 665.4 L1121 665.6 L1181 666 L1248.6 666.4 L1265.7 667 L1413.2 667.7 L1413.2 673.6 L98.0 673.6 Z" fill="#FF6600" fill-opacity="0.25"/>
<path d="M98 664 L177 664.4 L257 663.6 L337 665 L384.6 665 L445 665 L525 665.4 L605 665.6 L672.6 666 L733 666 L813 666.6 L873 666 L903 664.6 L960.6 664.4 L1041 665.4 L1121 665.6 L1181 666 L1248.6 666.4 L1265.7 667 L1413.2 667.7" transform="translate(1,1)" fill="none" stroke="#000" stroke-opacity="0.05" stroke-width="5" stroke-linejoin="round" stroke-linecap="round"/>
<path d="M98 664 L177 664.4 L257 663.6 L337 665 L384.6 665 L445 665 L525 665.4 L605 665.6 L672.6 666 L733 666 L813 666.6 L873 666 L903 664.6 L960.6 664.4 L1041 665.4 L1121 665.6 L1181 666 L1248.6 666.4 L1265.7 667 L1413.2 667.7" transform="translate(1,1)" fill="none" stroke="#000" stroke-opacity="0.1" stroke-width="3" stroke-linejoin="round" stroke-linecap="round"/>
<path d="M98 664 L177 664.4 L257 663.6 L337 665 L384.6 665 L445 665 L525 665.4 L605 665.6 L672.6 666 L733 666 L813 666.6 L873 666 L903 664.6 L960.6 664.4 L1041 665.4 L1121 665.6 L1181 666 L1248.6 666.4 L1265.7 667 L1413.2 667.7" transform="translate(1,1)" fill="none" stroke="#000" stroke-opacity="0.15" stroke-width="1" stroke-linejoin="round" stroke-linecap="round"/>
<path d="M98 664 L177 664.4 L257 663.6 L337 665 L384.6 665 L445 665 L525 665.4 L605 665.6 L672.6 666 L733 666 L813 666.6 L873 666 L903 664.6 L960.6 664.4 L1041 665.4 L1121 665.6 L1181 666 L1248.6 666.4 L1265.7 667 L1413.2 667.7" fill="none" stroke="#FF6600" stroke-width="2" stroke-linejoin="round" stroke-linecap="round"/>
<path d="M98 662 L117 663 L157 662.4 L197 663 L237 662.4 L277 664 L317 663 L357 663.6 L384.6 662 L421 660.6 L445 661 L459 659.6 L479 660 L489 661 L505 661 L525 662 L559 661 L566 659.4 L575 660.6 L605 662.4 L645 663.6 L665 663.6 L672.6 663 L685 662.6 L703 663.6 L733 664 L793 664.4 L813 665.6 L833 666.6 L873 666.4 L883 665 L903 665.4 L960.6 666.4 L1041 666.6 L1121 666.6 L1181 667 L1248.6 667.2 L1267.3 667 L1299 666.7 L1413.2 667 L1413.2 673.6 L98.0 673.6 Z" fill="#000000" fill-opacity="0.25"/>
<path d="M98 662 L117 663 L157 662.4 L197 663 L237 662.4 L277 664 L317 663 L357 663.6 L384.6 662 L421 660.6 L445 661 L459 659.6 L479 660 L489 661 L505 661 L525 662 L559 661 L566 659.4 L575 660.6 L605 662.4 L645 663.6 L665 663.6 L672.6 663 L685 662.6 L703 663.6 L733 664 L793 664.4 L813 665.6 L833 666.6 L873 666.4 L883 665 L903 665.4 L960.6 666.4 L1041 666.6 L1121 666.6 L1181 667 L1248.6 667.2 L1267.3 667 L1299 666.7 L1413.2 667" transform="translate(1,1)" fill="none" stroke="#000" stroke-opacity="0.05" stroke-width="5" stroke-linejoin="round" stroke-linecap="round"/>
<path d="M98 662 L117 663 L157 662.4 L197 663 L237 662.4 L277 664 L317 663 L357 663.6 L384.6 662 L421 660.6 L445 661 L459 659.6 L479 660 L489 661 L505 661 L525 662 L559 661 L566 659.4 L575 660.6 L605 662.4 L645 663.6 L665 663.6 L672.6 663 L685 662.6 L703 663.6 L733 664 L793 664.4 L813 665.6 L833 666.6 L873 666.4 L883 665 L903 665.4 L960.6 666.4 L1041 666.6 L1121 666.6 L1181 667 L1248.6 667.2 L1267.3 667 L1299 666.7 L1413.2 667" transform="translate(1,1)" fill="none" stroke="#000" stroke-opacity="0.1" stroke-width="3" stroke-linejoin="round" stroke-linecap="round"/>
<path d="M98 662 L117 663 L157 662.4 L197 663 L237 662.4 L277 664 L317 663 L357 663.6 L384.6 662 L421 660.6 L445 661 L459 659.6 L479 660 L489 661 L505 661 L525 662 L559 661 L566 659.4 L575 660.6 L605 662.4 L645 663.6 L665 663.6 L672.6 663 L685 662.6 L703 663.6 L733 664 L793 664.4 L813 665.6 L833 666.6 L873 666.4 L883 665 L903 665.4 L960.6 666.4 L1041 666.6 L1121 666.6 L1181 667 L1248.6 667.2 L1267.3 667 L1299 666.7 L1413.2 667" transform="translate(1,1)" fill="none" stroke="#000" stroke-opacity="0.15" stroke-width="1" stroke-linejoin="round" stroke-linecap="round"/>
<path d="M98 662 L117 663 L157 662.4 L197 663 L237 662.4 L277 664 L317 663 L357 663.6 L384.6 662 L421 660.6 L445 661 L459 659.6 L479 660 L489 661 L505 661 L525 662 L559 661 L566 659.4 L575 660.6 L605 662.4 L645 663.6 L665 663.6 L672.6 663 L685 662.6 L703 663.6 L733 664 L793 664.4 L813 665.6 L833 666.6 L873 666.4 L883 665 L903 665.4 L960.6 666.4 L1041 666.6 L1121 666.6 L1181 667 L1248.6 667.2 L1267.3 667 L1299 666.7 L1413.2 667" fill="none" stroke="#000000" stroke-width="2" stroke-linejoin="round" stroke-linecap="round"/>
<path d="M98 659.6 L117 659.4 L123 657.6 L147 659 L151 658 L177 659 L217 658.4 L226 656.4 L237 658.4 L257 660 L297 662 L337 663 L367 663 L384.6 661.6 L405 662 L445 663.4 L448 661.6 L465 662.4 L505 663.6 L545 664 L585 664 L672.6 665.4 L685 664.4 L733 665.6 L793 666.6 L833 668 L873 668 L960.6 668.2 L1041 668.4 L1121 668.6 L1181 668.6 L1248.6 668.8 L1265.7 670.3 L1413.2 670.3 L1413.2 673.6 L98.0 673.6 Z" fill="#9CD31A" fill-opacity="0.25"/>
<path d="M98 659.6 L117 659.4 L123 657.6 L147 659 L151 658 L177 659 L217 658.4 L226 656.4 L237 658.4 L257 660 L297 662 L337 663 L367 663 L384.6 661.6 L405 662 L445 663.4 L448 661.6 L465 662.4 L505 663.6 L545 664 L585 664 L672.6 665.4 L685 664.4 L733 665.6 L793 666.6 L833 668 L873 668 L960.6 668.2 L1041 668.4 L1121 668.6 L1181 668.6 L1248.6 668.8 L1265.7 670.3 L1413.2 670.3" transform="translate(1,1)" fill="none" stroke="#000" stroke-opacity="0.05" stroke-width="5" stroke-linejoin="round" stroke-linecap="round"/>
<path d="M98 659.6 L117 659.4 L123 657.6 L147 659 L151 658 L177 659 L217 658.4 L226 656.4 L237 658.4 L257 660 L297 662 L337 663 L367 663 L384.6 661.6 L405 662 L445 663.4 L448 661.6 L465 662.4 L505 663.6 L545 664 L585 664 L672.6 665.4 L685 664.4 L733 665.6 L793 666.6 L833 668 L873 668 L960.6 668.2 L1041 668.4 L1121 668.6 L1181 668.6 L1248.6 668.8 L1265.7 670.3 L1413.2 670.3" transform="translate(1,1)" fill="none" stroke="#000" stroke-opacity="0.1" stroke-width="3" stroke-linejoin="round" stroke-linecap="round"/>
<path d="M98 659.6 L117 659.4 L123 657.6 L147 659 L151 658 L177 659 L217 658.4 L226 656.4 L237 658.4 L257 660 L297 662 L337 663 L367 663 L384.6 661.6 L405 662 L445 663.4 L448 661.6 L465 662.4 L505 663.6 L545 664 L585 664 L672.6 665.4 L685 664.4 L733 665.6 L793 666.6 L833 668 L873 668 L960.6 668.2 L1041 668.4 L1121 668.6 L1181 668.6 L1248.6 668.8 L1265.7 670.3 L1413.2 670.3" transform="translate(1,1)" fill="none" stroke="#000" stroke-opacity="0.15" stroke-width="1" stroke-linejoin="round" stroke-linecap="round"/>
<path d="M98 659.6 L117 659.4 L123 657.6 L147 659 L151 658 L177 659 L217 658.4 L226 656.4 L237 658.4 L257 660 L297 662 L337 663 L367 663 L384.6 661.6 L405 662 L445 663.4 L448 661.6 L465 662.4 L505 663.6 L545 664 L585 664 L672.6 665.4 L685 664.4 L733 665.6 L793 666.6 L833 668 L873 668 L960.6 668.2 L1041 668.4 L1121 668.6 L1181 668.6 L1248.6 668.8 L1265.7 670.3 L1413.2 670.3" fill="none" stroke="#9CD31A" stroke-width="2" stroke-linejoin="round" stroke-linecap="round"/>
<path d="M98 471 L102 468 L106 463 L111 460 L115 460 L119 465 L123 466 L127 470 L130 467 L134 473.6 L140 472 L145 478 L149 483 L152.6 477 L156 480 L159.4 479 L163 475 L167 479 L177 479 L182 482 L190 482.4 L195 486 L200 490 L204 496 L215 494 L222 494.4 L229 499 L235 503 L243 507 L252 509 L257 512 L263 515 L273 516 L279 515.6 L285 517 L289 517 L294 522 L297 519 L302 512 L306 507 L314 505.6 L319 501.6 L327 501 L334 498 L344 497 L351 494 L357 494.4 L362 491 L369 490 L375 489 L381 481 L384.6 478 L385 479.4 L394 478 L402 472.4 L411 465 L419 470 L426 467 L430 461.6 L433 462 L441 452 L447.4 440 L451 444 L455 439 L459 439.4 L462 446 L467 450 L474 456 L477.4 452 L480.6 445 L484 454 L487 452 L493 459 L499 455.6 L506 459 L513 461.4 L517 458.4 L525 457 L530 461 L534.6 465 L538 458.6 L543 459.4 L548 460 L552.6 464 L557 461.6 L561 461.4 L566 460 L570 455 L574 459 L578 461.4 L585 461.4 L595 464 L600 471.4 L603 470 L608 475.4 L614 471.6 L622 472.4 L631 475.6 L638 477 L644 483 L650.6 489 L653 486 L657 489 L667 489 L672.6 485 L673 485.6 L681 481 L685.4 478 L689 481.6 L700 481 L705 485 L714 489 L718.6 486 L725 484.4 L736.6 481.4 L740 484 L743.4 491 L749 487.6 L754 492.4 L758 498 L761 493 L767 494.4 L775 494.6 L782 500.6 L787 503.6 L791 506 L797 505 L803 503 L808 503 L812 507 L816 504 L822 509 L826 511 L830 516 L834 519.6 L841 517 L844 509 L847.4 511.6 L852 511 L857 513 L862 515.6 L868 513 L877 511.4 L883 508 L891 508.6 L897.4 505.6 L902 509 L909 507.6 L913 511 L918 509.4 L927 511 L931 509.6 L938 513 L942 511 L948 511 L952 509.6 L957 511.6 L960.6 512 L961 512.4 L971 512.4 L974.6 515 L978 509.6 L985 511.6 L993 513 L1004 512.4 L1013 511 L1021 508.6 L1029 506.4 L1034 505.6 L1040 506 L1042.6 510 L1049 508.6 L1057 511 L1063 508.6 L1073 507 L1083 506 L1093 506.4 L1101 507 L1109 509 L1119 508 L1123 507 L1129 508.6 L1135 510 L1143 508 L1149 509 L1153 508.6 L1158 510 L1165 514.4 L1171 512.4 L1178 513 L1185 516.6 L1189 517 L1202.3 517 L1215.7 518.3 L1232.3 515.8 L1249 517.5 L1265.7 516.3 L1282.3 518.3 L1299 516.7 L1315.7 518 L1332.3 515.8 L1349 515 L1365.7 512.5 L1382.3 508.3 L1394.3 500.8 L1402.3 501.3 L1407.3 499.2 L1413.2 497.5 L1413.2 673.6 L98.0 673.6 Z" fill="#DDDDDD" fill-opacity="0.25"/>
<path d="M98 471 L102 468 L106 463 L111 460 L115 460 L119 465 L123 466 L127 470 L130 467 L134 473.6 L140 472 L145 478 L149 483 L152.6 477 L156 480 L159.4 479 L163 475 L167 479 L177 479 L182 482 L190 482.4 L195 486 L200 490 L204 496 L215 494 L222 494.4 L229 499 L235 503 L243 507 L252 509 L257 512 L263 515 L273 516 L279 515.6 L285 517 L289 517 L294 522 L297 519 L302 512 L306 507 L314 505.6 L319 501.6 L327 501 L334 498 L344 497 L351 494 L357 494.4 L362 491 L369 490 L375 489 L381 481 L384.6 478 L385 479.4 L394 478 L402 472.4 L411 465 L419 470 L426 467 L430 461.6 L433 462 L441 452 L447.4 440 L451 444 L455 439 L459 439.4 L462 446 L467 450 L474 456 L477.4 452 L480.6 445 L484 454 L487 452 L493 459 L499 455.6 L506 459 L513 461.4 L517 458.4 L525 457 L530 461 L534.6 465 L538 458.6 L543 459.4 L548 460 L552.6 464 L557 461.6 L561 461.4 L566 460 L570 455 L574 459 L578 461.4 L585 461.4 L595 464 L600 471.4 L603 470 L608 475.4 L614 471.6 L622 472.4 L631 475.6 L638 477 L644 483 L650.6 489 L653 486 L657 489 L667 489 L672.6 485 L673 485.6 L681 481 L685.4 478 L689 481.6 L700 481 L705 485 L714 489 L718.6 486 L725 484.4 L736.6 481.4 L740 484 L743.4 491 L749 487.6 L754 492.4 L758 498 L761 493 L767 494.4 L775 494.6 L782 500.6 L787 503.6 L791 506 L797 505 L803 503 L808 503 L812 507 L816 504 L822 509 L826 511 L830 516 L834 519.6 L841 517 L844 509 L847.4 511.6 L852 511 L857 513 L862 515.6 L868 513 L877 511.4 L883 508 L891 508.6 L897.4 505.6 L902 509 L909 507.6 L913 511 L918 509.4 L927 511 L931 509.6 L938 513 L942 511 L948 511 L952 509.6 L957 511.6 L960.6 512 L961 512.4 L971 512.4 L974.6 515 L978 509.6 L985 511.6 L993 513 L1004 512.4 L1013 511 L1021 508.6 L1029 506.4 L1034 505.6 L1040 506 L1042.6 510 L1049 508.6 L1057 511 L1063 508.6 L1073 507 L1083 506 L1093 506.4 L1101 507 L1109 509 L1119 508 L1123 507 L1129 508.6 L1135 510 L1143 508 L1149 509 L1153 508.6 L1158 510 L1165 514.4 L1171 512.4 L1178 513 L1185 516.6 L1189 517 L1202.3 517 L1215.7 518.3 L1232.3 515.8 L1249 517.5 L1265.7 516.3 L1282.3 518.3 L1299 516.7 L1315.7 518 L1332.3 515.8 L1349 515 L1365.7 512.5 L1382.3 508.3 L1394.3 500.8 L1402.3 501.3 L1407.3 499.2 L1413.2 497.5" transform="translate(1,1)" fill="none" stroke="#000" stroke-opacity="0.05" stroke-width="5" stroke-linejoin="round" stroke-linecap="round"/>
<path d="M98 471 L102 468 L106 463 L111 460 L115 460 L119 465 L123 466 L127 470 L130 467 L134 473.6 L140 472 L145 478 L149 483 L152.6 477 L156 480 L159.4 479 L163 475 L167 479 L177 479 L182 482 L190 482.4 L195 486 L200 490 L204 496 L215 494 L222 494.4 L229 499 L235 503 L243 507 L252 509 L257 512 L263 515 L273 516 L279 515.6 L285 517 L289 517 L294 522 L297 519 L302 512 L306 507 L314 505.6 L319 501.6 L327 501 L334 498 L344 497 L351 494 L357 494.4 L362 491 L369 490 L375 489 L381 481 L384.6 478 L385 479.4 L394 478 L402 472.4 L411 465 L419 470 L426 467 L430 461.6 L433 462 L441 452 L447.4 440 L451 444 L455 439 L459 439.4 L462 446 L467 450 L474 456 L477.4 452 L480.6 445 L484 454 L487 452 L493 459 L499 455.6 L506 459 L513 461.4 L517 458.4 L525 457 L530 461 L534.6 465 L538 458.6 L543 459.4 L548 460 L552.6 464 L557 461.6 L561 461.4 L566 460 L570 455 L574 459 L578 461.4 L585 461.4 L595 464 L600 471.4 L603 470 L608 475.4 L614 471.6 L622 472.4 L631 475.6 L638 477 L644 483 L650.6 489 L653 486 L657 489 L667 489 L672.6 485 L673 485.6 L681 481 L685.4 478 L689 481.6 L700 481 L705 485 L714 489 L718.6 486 L725 484.4 L736.6 481.4 L740 484 L743.4 491 L749 487.6 L754 492.4 L758 498 L761 493 L767 494.4 L775 494.6 L782 500.6 L787 503.6 L791 506 L797 505 L803 503 L808 503 L812 507 L816 504 L822 509 L826 511 L830 516 L834 519.6 L841 517 L844 509 L847.4 511.6 L852 511 L857 513 L862 515.6 L868 513 L877 511.4 L883 508 L891 508.6 L897.4 505.6 L902 509 L909 507.6 L913 511 L918 509.4 L927 511 L931 509.6 L938 513 L942 511 L948 511 L952 509.6 L957 511.6 L960.6 512 L961 512.4 L971 512.4 L974.6 515 L978 509.6 L985 511.6 L993 513 L1004 512.4 L1013 511 L1021 508.6 L1029 506.4 L1034 505.6 L1040 506 L1042.6 510 L1049 508.6 L1057 511 L1063 508.6 L1073 507 L1083 506 L1093 506.4 L1101 507 L1109 509 L1119 508 L1123 507 L1129 508.6 L1135 510 L1143 508 L1149 509 L1153 508.6 L1158 510 L1165 514.4 L1171 512.4 L1178 513 L1185 516.6 L1189 517 L1202.3 517 L1215.7 518.3 L1232.3 515.8 L1249 517.5 L1265.7 516.3 L1282.3 518.3 L1299 516.7 L1315.7 518 L1332.3 515.8 L1349 515 L1365.7 512.5 L1382.3 508.3 L1394.3 500.8 L1402.3 501.3 L1407.3 499.2 L1413.2 497.5" transform="translate(1,1)" fill="none" stroke="#000" stroke-opacity="0.1" stroke-width="3" stroke-linejoin="round" stroke-linecap="round"/>
<path d="M98 471 L102 468 L106 463 L111 460 L115 460 L119 465 L123 466 L127 470 L130 467 L134 473.6 L140 472 L145 478 L149 483 L152.6 477 L156 480 L159.4 479 L163 475 L167 479 L177 479 L182 482 L190 482.4 L195 486 L200 490 L204 496 L215 494 L222 494.4 L229 499 L235 503 L243 507 L252 509 L257 512 L263 515 L273 516 L279 515.6 L285 517 L289 517 L294 522 L297 519 L302 512 L306 507 L314 505.6 L319 501.6 L327 501 L334 498 L344 497 L351 494 L357 494.4 L362 491 L369 490 L375 489 L381 481 L384.6 478 L385 479.4 L394 478 L402 472.4 L411 465 L419 470 L426 467 L430 461.6 L433 462 L441 452 L447.4 440 L451 444 L455 439 L459 439.4 L462 446 L467 450 L474 456 L477.4 452 L480.6 445 L484 454 L487 452 L493 459 L499 455.6 L506 459 L513 461.4 L517 458.4 L525 457 L530 461 L534.6 465 L538 458.6 L543 459.4 L548 460 L552.6 464 L557 461.6 L561 461.4 L566 460 L570 455 L574 459 L578 461.4 L585 461.4 L595 464 L600 471.4 L603 470 L608 475.4 L614 471.6 L622 472.4 L631 475.6 L638 477 L644 483 L650.6 489 L653 486 L657 489 L667 489 L672.6 485 L673 485.6 L681 481 L685.4 478 L689 481.6 L700 481 L705 485 L714 489 L718.6 486 L725 484.4 L736.6 481.4 L740 484 L743.4 491 L749 487.6 L754 492.4 L758 498 L761 493 L767 494.4 L775 494.6 L782 500.6 L787 503.6 L791 506 L797 505 L803 503 L808 503 L812 507 L816 504 L822 509 L826 511 L830 516 L834 519.6 L841 517 L844 509 L847.4 511.6 L852 511 L857 513 L862 515.6 L868 513 L877 511.4 L883 508 L891 508.6 L897.4 505.6 L902 509 L909 507.6 L913 511 L918 509.4 L927 511 L931 509.6 L938 513 L942 511 L948 511 L952 509.6 L957 511.6 L960.6 512 L961 512.4 L971 512.4 L974.6 515 L978 509.6 L985 511.6 L993 513 L1004 512.4 L1013 511 L1021 508.6 L1029 506.4 L1034 505.6 L1040 506 L1042.6 510 L1049 508.6 L1057 511 L1063 508.6 L1073 507 L1083 506 L1093 506.4 L1101 507 L1109 509 L1119 508 L1123 507 L1129 508.6 L1135 510 L1143 508 L1149 509 L1153 508.6 L1158 510 L1165 514.4 L1171 512.4 L1178 513 L1185 516.6 L1189 517 L1202.3 517 L1215.7 518.3 L1232.3 515.8 L1249 517.5 L1265.7 516.3 L1282.3 518.3 L1299 516.7 L1315.7 518 L1332.3 515.8 L1349 515 L1365.7 512.5 L1382.3 508.3 L1394.3 500.8 L1402.3 501.3 L1407.3 499.2 L1413.2 497.5" transform="translate(1,1)" fill="none" stroke="#000" stroke-opacity="0.15" stroke-width="1" stroke-linejoin="round" stroke-linecap="round"/>
<path d="M98 471 L102 468 L106 463 L111 460 L115 460 L119 465 L123 466 L127 470 L130 467 L134 473.6 L140 472 L145 478 L149 483 L152.6 477 L156 480 L159.4 479 L163 475 L167 479 L177 479 L182 482 L190 482.4 L195 486 L200 490 L204 496 L215 494 L222 494.4 L229 499 L235 503 L243 507 L252 509 L257 512 L263 515 L273 516 L279 515.6 L285 517 L289 517 L294 522 L297 519 L302 512 L306 507 L314 505.6 L319 501.6 L327 501 L334 498 L344 497 L351 494 L357 494.4 L362 491 L369 490 L375 489 L381 481 L384.6 478 L385 479.4 L394 478 L402 472.4 L411 465 L419 470 L426 467 L430 461.6 L433 462 L441 452 L447.4 440 L451 444 L455 439 L459 439.4 L462 446 L467 450 L474 456 L477.4 452 L480.6 445 L484 454 L487 452 L493 459 L499 455.6 L506 459 L513 461.4 L517 458.4 L525 457 L530 461 L534.6 465 L538 458.6 L543 459.4 L548 460 L552.6 464 L557 461.6 L561 461.4 L566 460 L570 455 L574 459 L578 461.4 L585 461.4 L595 464 L600 471.4 L603 470 L608 475.4 L614 471.6 L622 472.4 L631 475.6 L638 477 L644 483 L650.6 489 L653 486 L657 489 L667 489 L672.6 485 L673 485.6 L681 481 L685.4 478 L689 481.6 L700 481 L705 485 L714 489 L718.6 486 L725 484.4 L736.6 481.4 L740 484 L743.4 491 L749 487.6 L754 492.4 L758 498 L761 493 L767 494.4 L775 494.6 L782 500.6 L787 503.6 L791 506 L797 505 L803 503 L808 503 L812 507 L816 504 L822 509 L826 511 L830 516 L834 519.6 L841 517 L844 509 L847.4 511.6 L852 511 L857 513 L862 515.6 L868 513 L877 511.4 L883 508 L891 508.6 L897.4 505.6 L902 509 L909 507.6 L913 511 L918 509.4 L927 511 L931 509.6 L938 513 L942 511 L948 511 L952 509.6 L957 511.6 L960.6 512 L961 512.4 L971 512.4 L974.6 515 L978 509.6 L985 511.6 L993 513 L1004 512.4 L1013 511 L1021 508.6 L1029 506.4 L1034 505.6 L1040 506 L1042.6 510 L1049 508.6 L1057 511 L1063 508.6 L1073 507 L1083 506 L1093 506.4 L1101 507 L1109 509 L1119 508 L1123 507 L1129 508.6 L1135 510 L1143 508 L1149 509 L1153 508.6 L1158 510 L1165 514.4 L1171 512.4 L1178 513 L1185 516.6 L1189 517 L1202.3 517 L1215.7 518.3 L1232.3 515.8 L1249 517.5 L1265.7 516.3 L1282.3 518.3 L1299 516.7 L1315.7 518 L1332.3 515.8 L1349 515 L1365.7 512.5 L1382.3 508.3 L1394.3 500.8 L1402.3 501.3 L1407.3 499.2 L1413.2 497.5" fill="none" stroke="#DDDDDD" stroke-width="2" stroke-linejoin="round" stroke-linecap="round"/>
</g>
<rect x="1412.6" y="156.0" width="1" height="517.6" fill="#cccccc"/>
<rect x="128" y="675" width="1" height="10.5" fill="#ccd6eb"/>
<text x="128.9" y="698" text-anchor="middle" font-size="14.5" fill="#666" letter-spacing="0.25">2月 '18</text>
<rect x="229" y="675" width="1" height="10.5" fill="#ccd6eb"/>
<text x="229.9" y="698" text-anchor="middle" font-size="14.5" fill="#666" letter-spacing="0.25">3月 '18</text>
<rect x="340" y="675" width="1" height="10.5" fill="#ccd6eb"/>
<text x="341.1" y="698" text-anchor="middle" font-size="14.5" fill="#666" letter-spacing="0.25">4月 '18</text>
<rect x="448" y="675" width="1" height="10.5" fill="#ccd6eb"/>
<text x="448.9" y="698" text-anchor="middle" font-size="14.5" fill="#666" letter-spacing="0.25">5月 '18</text>
<rect x="560" y="675" width="1" height="10.5" fill="#ccd6eb"/>
<text x="561.5" y="698" text-anchor="middle" font-size="14.5" fill="#666" letter-spacing="0.25">6月 '18</text>
<rect x="668" y="675" width="1" height="10.5" fill="#ccd6eb"/>
<text x="668.9" y="698" text-anchor="middle" font-size="14.5" fill="#666" letter-spacing="0.25">7月 '18</text>
<rect x="780" y="675" width="1" height="10.5" fill="#ccd6eb"/>
<text x="781.5" y="698" text-anchor="middle" font-size="14.5" fill="#666" letter-spacing="0.25">8月 '18</text>
<rect x="892" y="675" width="1" height="10.5" fill="#ccd6eb"/>
<text x="892.5" y="698" text-anchor="middle" font-size="14.5" fill="#666" letter-spacing="0.25">9月 '18</text>
<rect x="1000" y="675" width="1" height="10.5" fill="#ccd6eb"/>
<text x="1000.5" y="698" text-anchor="middle" font-size="14.5" fill="#666" letter-spacing="0.25">10月 '18</text>
<rect x="1112" y="675" width="1" height="10.5" fill="#ccd6eb"/>
<text x="1112.9" y="698" text-anchor="middle" font-size="14.5" fill="#666" letter-spacing="0.25">11月 '18</text>
<rect x="1220" y="675" width="1" height="10.5" fill="#ccd6eb"/>
<text x="1220.8" y="698" text-anchor="middle" font-size="14.5" fill="#666" letter-spacing="0.25">12月 '18</text>
<rect x="1332" y="675" width="1" height="10.5" fill="#ccd6eb"/>
<text x="1332.8" y="698" text-anchor="middle" font-size="14.5" fill="#666" letter-spacing="0.25">1月 '19</text>
<text x="79.5" y="670" text-anchor="end" font-size="14" fill="#7ba7d7">0%</text>
<text x="79.5" y="584" text-anchor="end" font-size="14" fill="#7ba7d7">10%</text>
<text x="79.5" y="498" text-anchor="end" font-size="14" fill="#7ba7d7">20%</text>
<text x="79.5" y="412" text-anchor="end" font-size="14" fill="#7ba7d7">30%</text>
<text x="79.5" y="326" text-anchor="end" font-size="14" fill="#7ba7d7">40%</text>
<text transform="translate(36,415.5) rotate(-90)" text-anchor="middle" font-size="15" font-weight="bold" fill="#7ba7d7">総時価総額のパーセンテージ</text>
<g id="markers">
<circle cx="1413.2" cy="222.3" r="12.5" fill="#F7931A" fill-opacity="0.25"/>
<circle cx="1413.2" cy="222.3" r="4.5" fill="#F7931A" stroke="#fff" stroke-width="1"/>
<circle cx="1413.2" cy="584.5" r="12.5" fill="#474A7C" fill-opacity="0.25"/>
<path d="M1413.2 579.5 L1418.2 584.5 L1413.2 589.5 L1408.2 584.5 Z" fill="#474A7C" stroke="#fff" stroke-width="1"/>
<circle cx="1413.2" cy="656.9" r="12.5" fill="#478E2E" fill-opacity="0.25"/>
<rect x="1408.7" y="652.4" width="9" height="9" fill="#478E2E" stroke="#fff" stroke-width="1"/>
<circle cx="1413.2" cy="659.4" r="12.5" fill="#838383" fill-opacity="0.25"/>
<path d="M1413.2 654.4 L1418.2 664.4 L1408.2 664.4 Z" fill="#838383" stroke="#fff" stroke-width="1"/>
<circle cx="1413.2" cy="579.5" r="12.5" fill="#18A0DC" fill-opacity="0.25"/>
<path d="M1408.2 574.5 L1418.2 574.5 L1413.2 584.5 Z" fill="#18A0DC" stroke="#fff" stroke-width="1"/>
<circle cx="1413.2" cy="668.6" r="12.5" fill="#1574B8" fill-opacity="0.25"/>
<circle cx="1413.2" cy="668.6" r="4.5" fill="#1574B8" stroke="#fff" stroke-width="1"/>
<circle cx="1413.2" cy="669.4" r="12.5" fill="#FBB90D" fill-opacity="0.25"/>
<path d="M1413.2 664.4 L1418.2 669.4 L1413.2 674.4 L1408.2 669.4 Z" fill="#FBB90D" stroke="#fff" stroke-width="1"/>
<circle cx="1413.2" cy="667.5" r="12.5" fill="#FF6600" fill-opacity="0.25"/>
<rect x="1408.7" y="663.0" width="9" height="9" fill="#FF6600" stroke="#fff" stroke-width="1"/>
<circle cx="1413.2" cy="666.9" r="12.5" fill="#000000" fill-opacity="0.25"/>
<path d="M1413.2 661.9 L1418.2 671.9 L1408.2 671.9 Z" fill="#000000" stroke="#fff" stroke-width="1"/>
<circle cx="1413.2" cy="669.4" r="12.5" fill="#9CD31A" fill-opacity="0.25"/>
<path d="M1408.2 664.4 L1418.2 664.4 L1413.2 674.4 Z" fill="#9CD31A" stroke="#fff" stroke-width="1"/>
<circle cx="1413.2" cy="497.7" r="12.5" fill="#DDDDDD" fill-opacity="0.25"/>
<circle cx="1413.2" cy="497.7" r="4.5" fill="#DDDDDD" stroke="#fff" stroke-width="1"/>
</g>
<rect x="1190.5" y="284" width="205" height="271.5" rx="3" fill="none" stroke="#000" stroke-opacity="0.05" stroke-width="5"/>
<rect x="1190.5" y="284" width="205" height="271.5" rx="3" fill="none" stroke="#000" stroke-opacity="0.08" stroke-width="3"/>
<rect x="1190.5" y="284" width="205" height="271.5" rx="3" fill="none" stroke="#000" stroke-opacity="0.12" stroke-width="1"/>
<rect x="1189.5" y="283" width="205" height="271.5" rx="3" fill="#fff" fill-opacity="0.92"/>
<text x="1203.5" y="314.5" font-size="12.8" fill="#333" letter-spacing="0.35">水曜日, 1月 23, 08:42</text>
<circle cx="1209.8" cy="329.6" r="4.4" fill="#F7931A"/>
<text x="1221.5" y="334.1" font-size="16" fill="#333" letter-spacing="0.7">Bitcoin: <tspan font-weight="bold" letter-spacing="0.55">52.32%</tspan></text>
<circle cx="1209.8" cy="349.6" r="4.4" fill="#474A7C"/>
<text x="1221.5" y="354.1" font-size="16" fill="#333" letter-spacing="0.7">Ethereum: <tspan font-weight="bold" letter-spacing="0.55">10.29%</tspan></text>
<circle cx="1209.8" cy="369.6" r="4.4" fill="#478E2E"/>
<text x="1221.5" y="374.1" font-size="16" fill="#333" letter-spacing="0.7">Bitcoin Cash: <tspan font-weight="bold" letter-spacing="0.55">1.87%</tspan></text>
<circle cx="1209.8" cy="389.6" r="4.4" fill="#838383"/>
<text x="1221.5" y="394.1" font-size="16" fill="#333" letter-spacing="0.7">Litecoin: <tspan font-weight="bold" letter-spacing="0.55">1.58%</tspan></text>
<circle cx="1209.8" cy="409.6" r="4.4" fill="#18A0DC"/>
<text x="1221.5" y="414.1" font-size="16" fill="#333" letter-spacing="0.7">XRP: <tspan font-weight="bold" letter-spacing="0.55">10.87%</tspan></text>
<circle cx="1209.8" cy="429.6" r="4.4" fill="#1574B8"/>
<text x="1221.5" y="434.1" font-size="16" fill="#333" letter-spacing="0.7">Dash: <tspan font-weight="bold" letter-spacing="0.55">0.51%</tspan></text>
<circle cx="1209.8" cy="449.6" r="4.4" fill="#FBB90D"/>
<text x="1221.5" y="454.1" font-size="16" fill="#333" letter-spacing="0.7">NEM: <tspan font-weight="bold" letter-spacing="0.55">0.42%</tspan></text>
<circle cx="1209.8" cy="469.6" r="4.4" fill="#FF6600"/>
<text x="1221.5" y="474.1" font-size="16" fill="#333" letter-spacing="0.7">Monero: <tspan font-weight="bold" letter-spacing="0.55">0.64%</tspan></text>
<circle cx="1209.8" cy="489.6" r="4.4" fill="#000000"/>
<text x="1221.5" y="494.1" font-size="16" fill="#333" letter-spacing="0.7">IOTA: <tspan font-weight="bold" letter-spacing="0.55">0.71%</tspan></text>
<circle cx="1209.8" cy="509.6" r="4.4" fill="#9CD31A"/>
<text x="1221.5" y="514.1" font-size="16" fill="#333" letter-spacing="0.7">NEO: <tspan font-weight="bold" letter-spacing="0.55">0.42%</tspan></text>
<circle cx="1209.8" cy="529.6" r="4.4" fill="#DDDDDD"/>
<text x="1221.5" y="534.1" font-size="16" fill="#333" letter-spacing="0.7">Others: <tspan font-weight="bold" letter-spacing="0.55">20.38%</tspan></text>
<path d="M115.5 741.2 L127.5 740 L143.8 739.2 L160 741.2 L172.5 741.2 L177.5 742.5 L190 741.8 L200 742 L207.5 743.2 L217.5 742 L225 740 L240 739.2 L243.8 741.2 L247.5 744.5 L255 743.8 L260 743 L265 745 L275 743.8 L290 743.2 L300 744.5 L303.2 747 L307.5 745 L315 744.5 L322.5 743 L340 743 L355 742 L370 741.2 L380 740.8 L395 741.2 L405 740.5 L412.5 741.8 L425 743 L435 743.8 L449.8 742.5 L452.5 743 L461.2 742.5 L467.5 744.5 L475 746.2 L481.2 750.8 L487.5 750.8 L497.5 749.5 L505 750 L515 748.8 L522.5 748 L530 745 L545 745 L560 744.5 L571.2 743.8 L580 745.5 L590 746.2 L595 748 L602.5 748.2 L610 745.8 L620 745.8 L630 748 L640 747.5 L652.5 746.2 L665 743.8 L675 743 L690 743 L702.5 742.5 L712.5 742 L720 742.5 L727.5 744.2 L735 745.8 L740 747.5 L745 746.2 L751.2 748.8 L756.2 752 L761.2 750 L767.5 750.5 L775 748.2 L785 748.2 L792.5 749.2 L799.8 750.8 L807.5 749.5 L815 748.8 L817.5 747 L821.2 748.8 L827.5 747.5 L837.5 750 L852.5 750 L877.5 750.5 L890 749.5 L897.5 748 L910 747 L920 745 L935 744.5 L945 746.8 L960 746.2 L970 745.8 L976.2 747.5 L982.5 754.5 L987.5 757.5 L992.5 758 L996.2 756.8 L1002.5 758 L1007.5 761.2 L1015 767 L1021.2 771.8 L1026.2 770.8 L1031.2 773 L1037.5 777.5 L1045 775.8 L1052.5 772 L1060 771.2 L1063.8 769.5 L1067.5 772 L1073.8 770 L1080 772.5 L1090 771.2 L1102.5 770.8 L1112.5 766.2 L1117.5 765 L1123.8 762.5 L1130 767.5 L1133.8 765 L1138.8 766.8 L1145 762.5 L1149.8 766.2 L1150.2 768 L1154 772.5 L1157.6 776.1 L1157.6 785 L115.5 785 Z" fill="#F7931A" fill-opacity="0.1"/>
<path d="M1171.5 779.5 L1171.5 779.5 L1179 778.2 L1186.5 779.5 L1196.5 775.8 L1204 773.8 L1214 772.5 L1221.5 775 L1229 778.2 L1236.5 778.8 L1249 777 L1256.5 777.5 L1264 775.8 L1276.5 773.8 L1286.5 770.5 L1294 769.5 L1299 767.5 L1309 767 L1314 765 L1319 767 L1325.2 768.2 L1334 766.8 L1344 767 L1351.5 768 L1361.5 766.8 L1369 765.8 L1379 767.5 L1386.5 768.2 L1395.2 766.2 L1395.2 785 L1171.5 785 Z" fill="#F7931A" fill-opacity="0.1"/>
<rect x="264" y="736" width="1" height="49" fill="#e6e6e6"/>
<rect x="488.25" y="736" width="1" height="49" fill="#e6e6e6"/>
<rect x="710.75" y="736" width="1" height="49" fill="#e6e6e6"/>
<rect x="934.5" y="736" width="1" height="49" fill="#e6e6e6"/>
<rect x="1157.1" y="736" width="1" height="49" fill="#e6e6e6"/>
<rect x="1379.75" y="736" width="1" height="49" fill="#e6e6e6"/>
<path d="M115.5 741.2 L127.5 740 L143.8 739.2 L160 741.2 L172.5 741.2 L177.5 742.5 L190 741.8 L200 742 L207.5 743.2 L217.5 742 L225 740 L240 739.2 L243.8 741.2 L247.5 744.5 L255 743.8 L260 743 L265 745 L275 743.8 L290 743.2 L300 744.5 L303.2 747 L307.5 745 L315 744.5 L322.5 743 L340 743 L355 742 L370 741.2 L380 740.8 L395 741.2 L405 740.5 L412.5 741.8 L425 743 L435 743.8 L449.8 742.5 L452.5 743 L461.2 742.5 L467.5 744.5 L475 746.2 L481.2 750.8 L487.5 750.8 L497.5 749.5 L505 750 L515 748.8 L522.5 748 L530 745 L545 745 L560 744.5 L571.2 743.8 L580 745.5 L590 746.2 L595 748 L602.5 748.2 L610 745.8 L620 745.8 L630 748 L640 747.5 L652.5 746.2 L665 743.8 L675 743 L690 743 L702.5 742.5 L712.5 742 L720 742.5 L727.5 744.2 L735 745.8 L740 747.5 L745 746.2 L751.2 748.8 L756.2 752 L761.2 750 L767.5 750.5 L775 748.2 L785 748.2 L792.5 749.2 L799.8 750.8 L807.5 749.5 L815 748.8 L817.5 747 L821.2 748.8 L827.5 747.5 L837.5 750 L852.5 750 L877.5 750.5 L890 749.5 L897.5 748 L910 747 L920 745 L935 744.5 L945 746.8 L960 746.2 L970 745.8 L976.2 747.5 L982.5 754.5 L987.5 757.5 L992.5 758 L996.2 756.8 L1002.5 758 L1007.5 761.2 L1015 767 L1021.2 771.8 L1026.2 770.8 L1031.2 773 L1037.5 777.5 L1045 775.8 L1052.5 772 L1060 771.2 L1063.8 769.5 L1067.5 772 L1073.8 770 L1080 772.5 L1090 771.2 L1102.5 770.8 L1112.5 766.2 L1117.5 765 L1123.8 762.5 L1130 767.5 L1133.8 765 L1138.8 766.8 L1145 762.5 L1149.8 766.2 L1150.2 768 L1154 772.5 L1159 777.5 L1165.2 781.2 L1171.5 779.5 L1179 778.2 L1186.5 779.5 L1196.5 775.8 L1204 773.8 L1214 772.5 L1221.5 775 L1229 778.2 L1236.5 778.8 L1249 777 L1256.5 777.5 L1264 775.8 L1276.5 773.8 L1286.5 770.5 L1294 769.5 L1299 767.5 L1309 767 L1314 765 L1319 767 L1325.2 768.2 L1334 766.8 L1344 767 L1351.5 768 L1361.5 766.8 L1369 765.8 L1379 767.5 L1386.5 768.2 L1395.2 766.2" transform="translate(0.5,1)" fill="none" stroke="#000" stroke-opacity="0.12" stroke-width="3" stroke-linejoin="round"/>
<path d="M115.5 741.2 L127.5 740 L143.8 739.2 L160 741.2 L172.5 741.2 L177.5 742.5 L190 741.8 L200 742 L207.5 743.2 L217.5 742 L225 740 L240 739.2 L243.8 741.2 L247.5 744.5 L255 743.8 L260 743 L265 745 L275 743.8 L290 743.2 L300 744.5 L303.2 747 L307.5 745 L315 744.5 L322.5 743 L340 743 L355 742 L370 741.2 L380 740.8 L395 741.2 L405 740.5 L412.5 741.8 L425 743 L435 743.8 L449.8 742.5 L452.5 743 L461.2 742.5 L467.5 744.5 L475 746.2 L481.2 750.8 L487.5 750.8 L497.5 749.5 L505 750 L515 748.8 L522.5 748 L530 745 L545 745 L560 744.5 L571.2 743.8 L580 745.5 L590 746.2 L595 748 L602.5 748.2 L610 745.8 L620 745.8 L630 748 L640 747.5 L652.5 746.2 L665 743.8 L675 743 L690 743 L702.5 742.5 L712.5 742 L720 742.5 L727.5 744.2 L735 745.8 L740 747.5 L745 746.2 L751.2 748.8 L756.2 752 L761.2 750 L767.5 750.5 L775 748.2 L785 748.2 L792.5 749.2 L799.8 750.8 L807.5 749.5 L815 748.8 L817.5 747 L821.2 748.8 L827.5 747.5 L837.5 750 L852.5 750 L877.5 750.5 L890 749.5 L897.5 748 L910 747 L920 745 L935 744.5 L945 746.8 L960 746.2 L970 745.8 L976.2 747.5 L982.5 754.5 L987.5 757.5 L992.5 758 L996.2 756.8 L1002.5 758 L1007.5 761.2 L1015 767 L1021.2 771.8 L1026.2 770.8 L1031.2 773 L1037.5 777.5 L1045 775.8 L1052.5 772 L1060 771.2 L1063.8 769.5 L1067.5 772 L1073.8 770 L1080 772.5 L1090 771.2 L1102.5 770.8 L1112.5 766.2 L1117.5 765 L1123.8 762.5 L1130 767.5 L1133.8 765 L1138.8 766.8 L1145 762.5 L1149.8 766.2 L1150.2 768 L1154 772.5 L1159 777.5 L1165.2 781.2 L1171.5 779.5 L1179 778.2 L1186.5 779.5 L1196.5 775.8 L1204 773.8 L1214 772.5 L1221.5 775 L1229 778.2 L1236.5 778.8 L1249 777 L1256.5 777.5 L1264 775.8 L1276.5 773.8 L1286.5 770.5 L1294 769.5 L1299 767.5 L1309 767 L1314 765 L1319 767 L1325.2 768.2 L1334 766.8 L1344 767 L1351.5 768 L1361.5 766.8 L1369 765.8 L1379 767.5 L1386.5 768.2 L1395.2 766.2" fill="none" stroke="#E8922E" stroke-width="1.8" stroke-linejoin="round"/>
<text x="270.5" y="780" font-size="14" fill="#999" letter-spacing="0.7">2014</text>
<text x="494.75" y="780" font-size="14" fill="#999" letter-spacing="0.7">2015</text>
<text x="717.25" y="780" font-size="14" fill="#999" letter-spacing="0.7">2016</text>
<text x="941" y="780" font-size="14" fill="#999" letter-spacing="0.7">2017</text>
<text x="1163.6" y="780" font-size="14" fill="#999" letter-spacing="0.7">2018</text>
<text x="1386.25" y="780" font-size="14" fill="#999" letter-spacing="0.7">2…</text>
<rect x="1171.5" y="736" width="223.75" height="49" fill="#6685c2" fill-opacity="0.3"/>
<rect x="97" y="735" width="1316.5" height="1" fill="#cccccc"/>
<rect x="1166.5" y="750.5" width="10" height="18" fill="#f2f2f2" stroke="#999" stroke-width="1"/>
<path d="M1170.5 755.5 V764.5 M1173.5 755.5 V764.5" stroke="#999" stroke-width="1" fill="none"/>
<rect x="1390.5" y="750.5" width="10" height="18" fill="#f2f2f2" stroke="#999" stroke-width="1"/>
<path d="M1394.5 755.5 V764.5 M1397.5 755.5 V764.5" stroke="#999" stroke-width="1" fill="none"/>
<rect x="97" y="785" width="1316.5" height="18.7" fill="#f2f2f2"/>
<rect x="1171.5" y="785" width="224.5" height="18.7" fill="#cccccc"/>
<rect x="1279.75" y="790.5" width="1" height="7" fill="#333"/>
<rect x="1282.75" y="790.5" width="1" height="7" fill="#333"/>
<rect x="1285.75" y="790.5" width="1" height="7" fill="#333"/>
<rect x="97.5" y="785.5" width="17" height="17.7" fill="#e6e6e6" stroke="#cccccc" stroke-width="1"/>
<path d="M107.3 791 L107.3 798 L103.8 794.5 Z" fill="#333"/>
<rect x="1396.5" y="785.5" width="17" height="17.7" fill="#e6e6e6" stroke="#cccccc" stroke-width="1"/>
<path d="M1403.4 791 L1403.4 798 L1406.9 794.5 Z" fill="#333"/>
<circle cx="176.5" cy="831.3" r="7.5" fill="#F7931A"/>
<text x="193.75" y="838" font-size="15.2" font-weight="bold" fill="#6e9bcf">Bitcoin</text>
<circle cx="279.25" cy="831.3" r="7.5" fill="#474A7C"/>
<text x="296.75" y="838" font-size="15.2" font-weight="bold" fill="#6e9bcf">Ethereum</text>
<circle cx="403" cy="831.3" r="7.5" fill="#478E2E"/>
<text x="420.5" y="838" font-size="15.2" font-weight="bold" fill="#6e9bcf">Bitcoin Cash</text>
<circle cx="547.5" cy="831.3" r="7.5" fill="#838383"/>
<text x="565" y="838" font-size="15.2" font-weight="bold" fill="#6e9bcf">Litecoin</text>
<circle cx="658.25" cy="831.3" r="7.5" fill="#18A0DC"/>
<text x="675.5" y="838" font-size="15.2" font-weight="bold" fill="#6e9bcf">XRP</text>
<circle cx="740" cy="831.3" r="7.5" fill="#1574B8"/>
<text x="757.5" y="838" font-size="15.2" font-weight="bold" fill="#6e9bcf">Dash</text>
<circle cx="829.4" cy="831.3" r="7.5" fill="#FBB90D"/>
<text x="847" y="838" font-size="15.2" font-weight="bold" fill="#6e9bcf">NEM</text>
<circle cx="913.75" cy="831.3" r="7.5" fill="#FF6600"/>
<text x="931.5" y="838" font-size="15.2" font-weight="bold" fill="#6e9bcf">Monero</text>
<circle cx="1022.5" cy="831.3" r="7.5" fill="#000000"/>
<text x="1040" y="838" font-size="15.2" font-weight="bold" fill="#6e9bcf">IOTA</text>
<circle cx="1112" cy="831.3" r="7.5" fill="#9CD31A"/>
<text x="1129.5" y="838" font-size="15.2" font-weight="bold" fill="#6e9bcf">NEO</text>
<circle cx="1196.5" cy="831.3" r="7.5" fill="#DDDDDD"/>
<text x="1214" y="838" font-size="15.2" font-weight="bold" fill="#6e9bcf">Others</text>
<text x="1413" y="864" text-anchor="end" font-size="12.3" fill="#999" letter-spacing="0.05">coinmarketcap.com</text>
<text x="403.5" y="33.5" font-size="31" font-weight="350" letter-spacing="0.35" fill="#666">総時価総額のパーセンテージ（ドミナンス）</text>
<text x="107" y="130" font-size="15" fill="#666" letter-spacing="0.8">Zoom</text>
<rect x="154" y="112" width="40" height="28" rx="2.5" fill="#f7f7f7"/>
<text x="174.5" y="130" text-anchor="middle" font-size="14.5" letter-spacing="0.4" fill="#333">1日</text>
<rect x="200.3" y="112" width="40" height="28" rx="2.5" fill="#f7f7f7"/>
<text x="220.8" y="130" text-anchor="middle" font-size="14.5" letter-spacing="0.4" fill="#333">1週</text>
<rect x="246.7" y="112" width="40" height="28" rx="2.5" fill="#f7f7f7"/>
<text x="267.2" y="130" text-anchor="middle" font-size="14.5" letter-spacing="0.4" fill="#333">1月</text>
<rect x="293" y="112" width="40" height="28" rx="2.5" fill="#f7f7f7"/>
<text x="313.5" y="130" text-anchor="middle" font-size="14.5" letter-spacing="0.4" fill="#333">3月</text>
<rect x="339.3" y="112" width="40" height="28" rx="2.5" fill="#e6ebf5"/>
<text x="359.8" y="130" text-anchor="middle" font-size="14.5" letter-spacing="0.4" fill="#000" font-weight="bold">1年</text>
<rect x="385.6" y="112" width="40" height="28" rx="2.5" fill="#f7f7f7"/>
<text x="406.1" y="130" text-anchor="middle" font-size="14.5" letter-spacing="0.4" fill="#333">年初来</text>
<rect x="432" y="112" width="40" height="28" rx="2.5" fill="#f7f7f7"/>
<text x="452.5" y="130" text-anchor="middle" font-size="14.5" letter-spacing="0.4" fill="#333">全部</text>
<text x="1088.5" y="130" font-size="14.5" fill="#666" letter-spacing="0.7">From</text>
<rect x="1135" y="113" width="118" height="26" fill="#fff" stroke="#cccccc" stroke-width="1"/>
<text x="1146" y="130" font-size="15" fill="#666" letter-spacing="0.85">1月 23, 2018</text>
<text x="1267.5" y="130" font-size="15.5" fill="#666" letter-spacing="0.5">To</text>
<rect x="1296.5" y="113" width="118" height="26" fill="#fff" stroke="#cccccc" stroke-width="1"/>
<text x="1307.3" y="130" font-size="15" fill="#666" letter-spacing="0.85">1月 23, 2019</text>
<rect x="1226.5" y="52" width="42" height="35" rx="3" fill="#e1e5ec"/>
<text x="1247.5" y="72.7" text-anchor="middle" font-size="15" fill="#333">重複</text>
<text x="1308" y="72.7" text-anchor="middle" font-size="15" fill="#333">積まれた</text>
<path d="M1358.4 60.7 L1362.8 65.1" stroke="#888" stroke-width="1.5" fill="none"/><path d="M1356.2 58.5 L1360.4 59.1 L1356.8 62.7 Z" fill="#222"/>
<path d="M1372.0 60.7 L1367.6000000000001 65.1" stroke="#888" stroke-width="1.5" fill="none"/><path d="M1374.2 58.5 L1370.0 59.1 L1373.6000000000001 62.7 Z" fill="#222"/>
<path d="M1358.4 74.1 L1362.8 69.7" stroke="#888" stroke-width="1.5" fill="none"/><path d="M1356.2 76.3 L1360.4 75.7 L1356.8 72.1 Z" fill="#222"/>
<path d="M1372.0 74.1 L1367.6000000000001 69.7" stroke="#888" stroke-width="1.5" fill="none"/><path d="M1374.2 76.3 L1370.0 75.7 L1373.6000000000001 72.1 Z" fill="#222"/>
<rect x="1388" y="58.8" width="22" height="3.5" rx="1.3" fill="#666"/>
<rect x="1388" y="65.75" width="22" height="3.5" rx="1.3" fill="#666"/>
<rect x="1388" y="72.65" width="22" height="3.5" rx="1.3" fill="#666"/>
</svg>
</body></html>
